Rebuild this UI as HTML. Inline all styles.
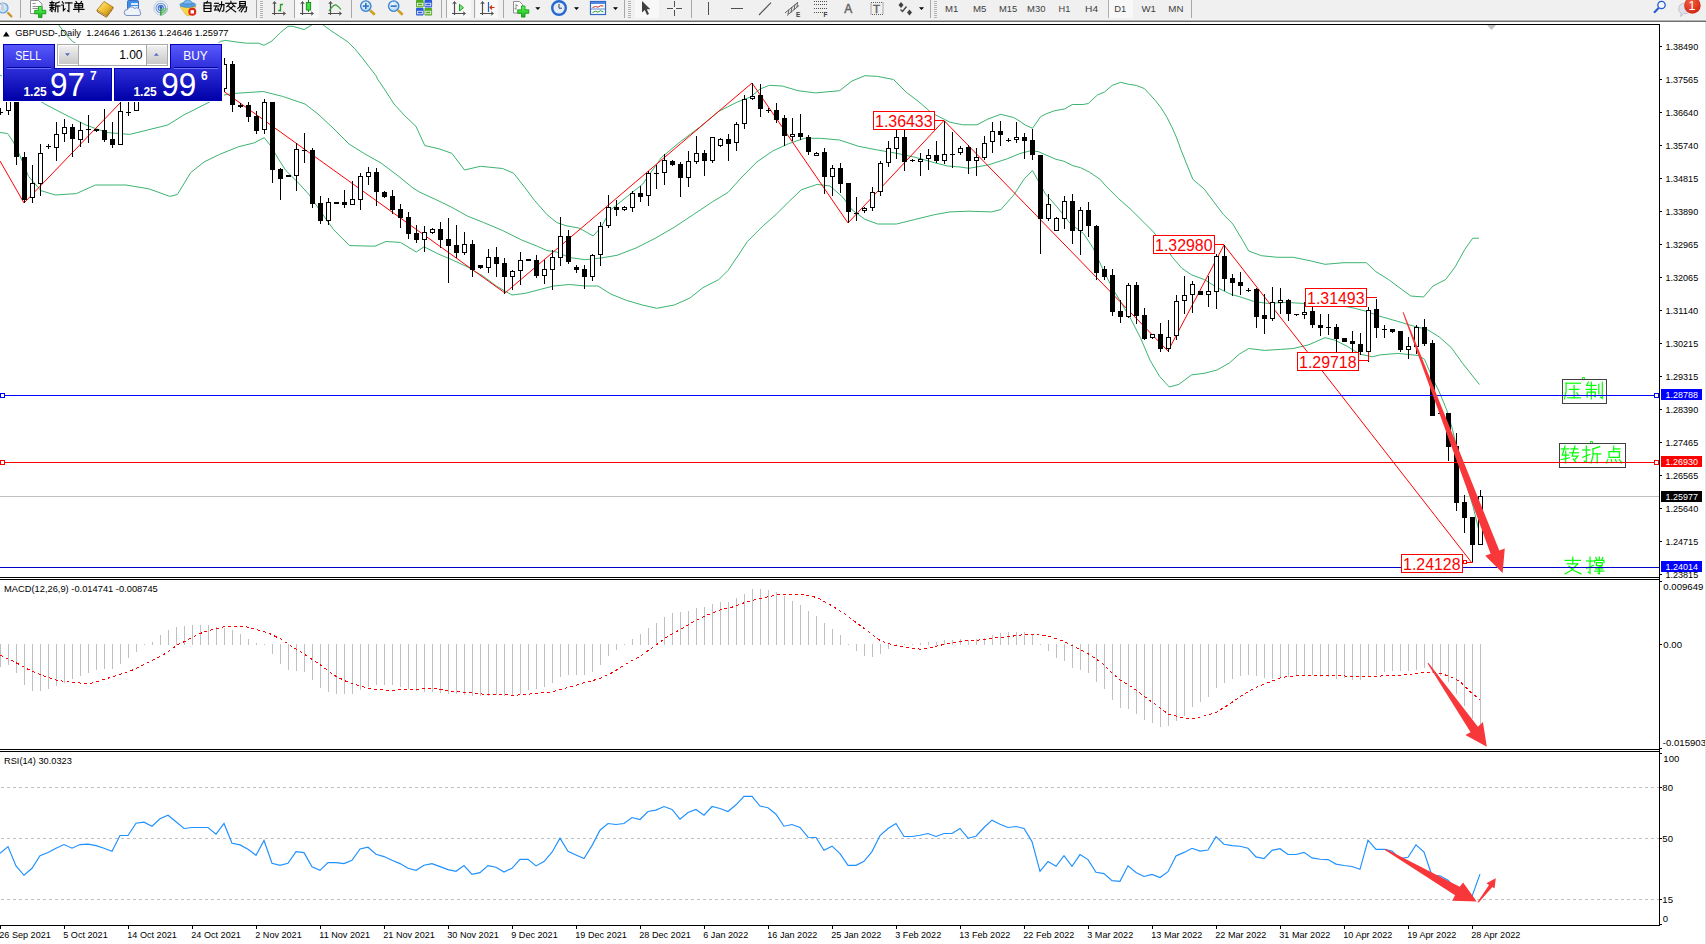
<!DOCTYPE html>
<html><head><meta charset="utf-8"><title>GBPUSD Daily</title>
<style>
html,body{margin:0;padding:0;background:#fff;overflow:hidden}
body{width:1706px;height:944px;position:relative;font-family:"Liberation Sans",sans-serif}
svg{display:block}
text{font-family:"Liberation Sans",sans-serif}
</style></head><body>
<svg width="1706" height="944" viewBox="0 0 1706 944" style="position:absolute;left:0;top:0">
<defs>
<clipPath id="cm"><rect x="0" y="25" width="1659" height="552"/></clipPath>
<clipPath id="c2"><rect x="0" y="581" width="1659" height="168"/></clipPath>
<clipPath id="c3"><rect x="0" y="753" width="1659" height="172"/></clipPath>
</defs>
<g shape-rendering="crispEdges" fill="#000">
<rect x="0" y="24" width="1660" height="1"/>
<rect x="1659" y="24" width="1" height="902"/>
<rect x="0" y="577" width="1660" height="1"/>
<rect x="0" y="579" width="1660" height="1"/>
<rect x="0" y="749" width="1660" height="1"/>
<rect x="0" y="751" width="1660" height="1"/>
<rect x="0" y="925" width="1660" height="1"/>
</g>
<g clip-path="url(#cm)">
<g shape-rendering="crispEdges">
<rect x="0" y="496" width="1659" height="1" fill="#c0c0c0"/>
</g>
<polyline points="58.0,24.0 65.0,33.4 72.5,41.4 80.0,46.0 215.0,46.0 220.4,41.4 225.3,40.4 238.0,42.2 246.4,43.2 258.4,43.2 264.0,45.3 271.8,41.1 280.2,32.7 288.0,26.3 292.9,26.3 304.1,29.6 311.8,24.9 317.5,22.0 323.1,24.9 330.8,30.6 339.3,36.2 347.7,41.8 354.8,48.8 361.8,57.3 368.8,66.4 375.9,75.6 378.0,79.8 385.0,90.0 394.0,104.0 405.0,116.0 416.0,126.4 424.8,145.6 439.0,148.8 451.8,153.3 464.5,170.0 480.4,166.3 502.6,168.5 513.7,173.3 524.9,187.6 534.4,200.3 547.0,214.6 556.6,222.5 566.0,225.7 578.9,228.0 593.2,235.9 601.0,227.3 610.7,209.8 626.5,197.0 642.4,184.4 661.5,157.4 680.6,141.5 699.6,127.2 718.7,111.3 737.8,101.8 750.5,97.0 760.0,89.0 769.5,85.3 782.3,86.0 798.0,90.7 815.6,92.9 839.5,90.7 852.0,81.0 864.9,75.7 877.6,76.4 893.5,79.5 906.2,92.2 918.9,101.8 931.6,112.9 944.3,119.3 950.0,122.2 962.7,124.8 977.0,124.8 988.0,119.0 1000.8,114.3 1013.6,117.5 1020.0,121.3 1025.2,125.0 1032.5,128.3 1040.6,116.7 1047.0,113.5 1054.8,110.7 1064.5,109.0 1072.2,104.5 1083.2,104.5 1088.3,103.5 1097.4,95.0 1104.5,92.0 1112.2,85.4 1120.6,82.3 1128.3,84.2 1136.7,85.5 1144.4,88.6 1149.0,93.5 1155.4,100.6 1161.2,108.0 1167.0,117.4 1172.2,127.7 1176.7,138.0 1181.2,150.3 1186.3,163.2 1192.8,179.3 1204.2,189.0 1213.7,201.7 1223.3,214.4 1232.8,224.0 1242.3,239.8 1248.7,251.0 1261.4,255.7 1277.3,257.3 1293.2,257.3 1309.0,260.5 1325.0,264.3 1344.0,262.7 1366.3,262.7 1375.8,271.6 1388.5,279.5 1401.2,289.0 1410.8,296.0 1423.5,297.0 1433.0,286.0 1445.7,279.5 1455.2,266.8 1464.8,249.4 1472.7,238.2 1479.0,238.2" fill="none" stroke="#3cb371" stroke-width="1"/>
<polyline points="0.0,75.0 44.8,104.0 63.0,113.5 85.8,125.0 106.8,132.5 129.7,134.4 148.8,129.7 167.8,125.0 183.0,115.4 207.0,103.3 222.0,95.3 234.6,93.4 263.2,91.5 282.3,96.3 305.0,104.0 318.0,114.0 333.0,128.0 349.0,144.0 365.0,154.0 381.0,163.0 397.0,175.0 413.0,188.0 420.0,192.3 435.9,199.6 451.8,207.3 467.7,216.2 483.6,222.5 502.6,230.5 521.7,240.0 537.6,246.4 547.0,250.5 556.6,252.0 569.4,257.5 585.2,259.7 601.0,258.0 617.0,255.3 636.0,248.0 655.0,238.4 674.2,227.3 693.3,214.6 712.3,201.9 728.2,192.3 741.0,178.0 756.8,162.0 772.7,151.0 788.6,143.7 804.5,138.3 820.4,138.3 839.5,140.0 858.5,146.3 877.6,150.0 896.6,153.3 915.7,157.4 934.8,162.8 947.5,166.0 960.0,167.0 969.0,168.3 988.0,165.0 1007.2,158.8 1020.0,153.5 1029.7,151.0 1038.0,151.5 1047.0,155.4 1056.0,159.3 1063.8,161.2 1072.9,165.7 1080.6,167.7 1089.6,172.2 1100.0,179.3 1105.7,185.8 1118.4,198.5 1131.0,209.6 1143.8,222.3 1153.4,231.9 1166.0,247.8 1172.4,257.3 1182.0,268.4 1191.5,274.8 1204.2,279.5 1217.0,287.5 1229.6,293.8 1242.3,297.6 1255.0,301.8 1267.8,303.4 1286.8,302.4 1302.7,303.4 1318.6,303.4 1337.7,305.0 1353.6,308.0 1366.3,311.3 1380.0,316.3 1397.8,321.4 1412.6,325.8 1427.5,329.7 1439.3,337.0 1451.2,347.5 1463.0,363.8 1479.4,384.5" fill="none" stroke="#3cb371" stroke-width="1"/>
<polyline points="0.0,132.5 7.6,133.5 13.4,142.0 19.0,153.5 28.6,176.4 41.0,190.7 55.3,195.0 76.3,193.6 95.4,185.0 125.9,185.0 148.8,188.8 169.8,196.4 177.4,194.5 190.7,172.6 204.0,162.0 219.3,154.5 238.4,146.8 253.7,143.0 264.2,137.7 270.8,145.9 278.5,159.2 286.0,170.7 297.5,182.0 309.0,194.5 317.8,207.5 333.6,229.7 349.5,245.6 375.0,246.2 386.0,241.5 400.4,242.4 416.3,252.0 424.0,246.8 439.0,254.3 451.8,259.7 467.7,267.0 483.6,276.5 496.3,286.0 512.0,295.0 524.9,293.4 540.7,289.3 553.5,286.0 569.4,284.5 585.2,286.0 598.0,286.0 610.7,294.0 626.5,300.4 642.4,305.0 656.7,308.3 674.2,305.0 690.0,298.0 702.8,287.7 718.7,279.7 728.2,270.2 737.8,256.0 747.3,241.6 763.2,225.7 775.9,214.6 788.6,201.9 801.3,189.8 817.2,184.4 830.0,186.0 842.6,197.0 852.0,209.8 864.9,219.3 877.6,224.0 896.6,224.0 915.7,219.3 934.8,214.6 950.0,211.9 969.0,211.2 991.3,211.9 1000.8,209.6 1013.6,195.3 1023.9,179.3 1032.5,170.5 1037.4,179.4 1045.3,193.7 1058.0,208.0 1070.7,224.0 1083.5,233.5 1093.0,247.8 1102.5,268.4 1112.0,287.5 1121.6,303.4 1131.0,319.3 1140.7,338.3 1150.2,360.6 1159.7,376.5 1169.3,387.0 1178.8,384.4 1191.5,374.9 1204.2,373.3 1217.0,370.0 1229.6,362.8 1239.2,354.2 1248.7,348.5 1264.6,350.4 1280.5,349.4 1293.2,348.5 1309.0,344.7 1325.0,337.7 1334.5,340.0 1347.2,346.3 1360.0,354.2 1372.6,356.8 1380.0,354.9 1397.8,353.4 1418.6,355.5 1424.5,359.3 1432.0,377.0 1439.3,392.0 1446.7,409.8 1451.2,424.6 1457.0,448.0 1464.5,478.0 1469.0,492.8 1473.4,507.7 1478.0,527.0 1480.0,535.0" fill="none" stroke="#3cb371" stroke-width="1"/>
<polyline points="0.0,161.0 24.0,203.0 169.0,52.0 224.0,91.5 505.0,293.0 752.0,83.0 848.0,223.0 944.0,120.5 1168.0,351.0 1224.0,245.0 1472.0,563.0" fill="none" stroke="#ff0000" stroke-width="1"/>
<g shape-rendering="crispEdges">
<rect x="0" y="108" width="1" height="7" fill="#000"/>
<rect x="-2" y="112" width="5" height="1" fill="#000"/>
<rect x="8" y="90" width="1" height="25" fill="#000"/>
<rect x="6" y="95" width="5" height="16" fill="#000"/>
<rect x="7" y="96" width="3" height="14" fill="#fff"/>
<rect x="16" y="75" width="1" height="90" fill="#000"/>
<rect x="14" y="80" width="5" height="77" fill="#000"/>
<rect x="24" y="152" width="1" height="51" fill="#000"/>
<rect x="22" y="157" width="5" height="43" fill="#000"/>
<rect x="32" y="165" width="1" height="38" fill="#000"/>
<rect x="30" y="183" width="5" height="15" fill="#000"/>
<rect x="31" y="184" width="3" height="13" fill="#fff"/>
<rect x="40" y="144" width="1" height="52" fill="#000"/>
<rect x="38" y="153" width="5" height="31" fill="#000"/>
<rect x="39" y="154" width="3" height="29" fill="#fff"/>
<rect x="48" y="144" width="1" height="5" fill="#000"/>
<rect x="46" y="146" width="5" height="1" fill="#000"/>
<rect x="56" y="122" width="1" height="39" fill="#000"/>
<rect x="54" y="134" width="5" height="14" fill="#000"/>
<rect x="55" y="135" width="3" height="12" fill="#fff"/>
<rect x="64" y="119" width="1" height="23" fill="#000"/>
<rect x="62" y="127" width="5" height="7" fill="#000"/>
<rect x="63" y="128" width="3" height="5" fill="#fff"/>
<rect x="72" y="124" width="1" height="33" fill="#000"/>
<rect x="70" y="127" width="5" height="12" fill="#000"/>
<rect x="80" y="122" width="1" height="25" fill="#000"/>
<rect x="78" y="130" width="5" height="10" fill="#000"/>
<rect x="79" y="131" width="3" height="8" fill="#fff"/>
<rect x="88" y="115" width="1" height="28" fill="#000"/>
<rect x="86" y="129" width="5" height="1" fill="#000"/>
<rect x="96" y="129" width="1" height="3" fill="#000"/>
<rect x="94" y="129" width="5" height="2" fill="#000"/>
<rect x="104" y="109" width="1" height="33" fill="#000"/>
<rect x="102" y="130" width="5" height="10" fill="#000"/>
<rect x="112" y="122" width="1" height="26" fill="#000"/>
<rect x="110" y="139" width="5" height="6" fill="#000"/>
<rect x="120" y="95" width="1" height="50" fill="#000"/>
<rect x="118" y="111" width="5" height="34" fill="#000"/>
<rect x="119" y="112" width="3" height="32" fill="#fff"/>
<rect x="128" y="95" width="1" height="21" fill="#000"/>
<rect x="126" y="112" width="5" height="1" fill="#000"/>
<rect x="136" y="85" width="1" height="26" fill="#000"/>
<rect x="134" y="90" width="5" height="21" fill="#000"/>
<rect x="135" y="91" width="3" height="19" fill="#fff"/>
<rect x="224" y="58" width="1" height="34" fill="#000"/>
<rect x="222" y="64" width="5" height="25" fill="#000"/>
<rect x="223" y="65" width="3" height="23" fill="#fff"/>
<rect x="232" y="61" width="1" height="51" fill="#000"/>
<rect x="230" y="64" width="5" height="41" fill="#000"/>
<rect x="240" y="103" width="1" height="5" fill="#000"/>
<rect x="238" y="105" width="5" height="2" fill="#000"/>
<rect x="248" y="102" width="1" height="20" fill="#000"/>
<rect x="246" y="105" width="5" height="12" fill="#000"/>
<rect x="256" y="111" width="1" height="23" fill="#000"/>
<rect x="254" y="116" width="5" height="15" fill="#000"/>
<rect x="264" y="99" width="1" height="35" fill="#000"/>
<rect x="262" y="102" width="5" height="28" fill="#000"/>
<rect x="263" y="103" width="3" height="26" fill="#fff"/>
<rect x="272" y="102" width="1" height="81" fill="#000"/>
<rect x="270" y="102" width="5" height="68" fill="#000"/>
<rect x="280" y="168" width="1" height="32" fill="#000"/>
<rect x="278" y="169" width="5" height="10" fill="#000"/>
<rect x="288" y="176" width="1" height="1" fill="#000"/>
<rect x="286" y="175" width="5" height="2" fill="#000"/>
<rect x="296" y="143" width="1" height="48" fill="#000"/>
<rect x="294" y="149" width="5" height="27" fill="#000"/>
<rect x="295" y="150" width="3" height="25" fill="#fff"/>
<rect x="304" y="133" width="1" height="30" fill="#000"/>
<rect x="302" y="150" width="5" height="1" fill="#000"/>
<rect x="312" y="148" width="1" height="60" fill="#000"/>
<rect x="310" y="150" width="5" height="54" fill="#000"/>
<rect x="320" y="196" width="1" height="28" fill="#000"/>
<rect x="318" y="203" width="5" height="18" fill="#000"/>
<rect x="328" y="198" width="1" height="27" fill="#000"/>
<rect x="326" y="202" width="5" height="19" fill="#000"/>
<rect x="327" y="203" width="3" height="17" fill="#fff"/>
<rect x="336" y="202" width="1" height="2" fill="#000"/>
<rect x="334" y="202" width="5" height="2" fill="#000"/>
<rect x="344" y="190" width="1" height="18" fill="#000"/>
<rect x="342" y="202" width="5" height="3" fill="#000"/>
<rect x="352" y="181" width="1" height="24" fill="#000"/>
<rect x="350" y="199" width="5" height="6" fill="#000"/>
<rect x="351" y="200" width="3" height="4" fill="#fff"/>
<rect x="360" y="173" width="1" height="37" fill="#000"/>
<rect x="358" y="176" width="5" height="24" fill="#000"/>
<rect x="359" y="177" width="3" height="22" fill="#fff"/>
<rect x="368" y="167" width="1" height="18" fill="#000"/>
<rect x="366" y="172" width="5" height="5" fill="#000"/>
<rect x="367" y="173" width="3" height="3" fill="#fff"/>
<rect x="376" y="168" width="1" height="38" fill="#000"/>
<rect x="374" y="172" width="5" height="20" fill="#000"/>
<rect x="384" y="191" width="1" height="7" fill="#000"/>
<rect x="382" y="192" width="5" height="5" fill="#000"/>
<rect x="392" y="190" width="1" height="24" fill="#000"/>
<rect x="390" y="196" width="5" height="14" fill="#000"/>
<rect x="400" y="204" width="1" height="24" fill="#000"/>
<rect x="398" y="209" width="5" height="9" fill="#000"/>
<rect x="408" y="212" width="1" height="27" fill="#000"/>
<rect x="406" y="217" width="5" height="17" fill="#000"/>
<rect x="416" y="225" width="1" height="18" fill="#000"/>
<rect x="414" y="233" width="5" height="7" fill="#000"/>
<rect x="424" y="226" width="1" height="26" fill="#000"/>
<rect x="422" y="232" width="5" height="8" fill="#000"/>
<rect x="423" y="233" width="3" height="6" fill="#fff"/>
<rect x="432" y="228" width="1" height="6" fill="#000"/>
<rect x="430" y="229" width="5" height="4" fill="#000"/>
<rect x="431" y="230" width="3" height="2" fill="#fff"/>
<rect x="440" y="222" width="1" height="26" fill="#000"/>
<rect x="438" y="229" width="5" height="11" fill="#000"/>
<rect x="448" y="218" width="1" height="65" fill="#000"/>
<rect x="446" y="239" width="5" height="7" fill="#000"/>
<rect x="456" y="225" width="1" height="33" fill="#000"/>
<rect x="454" y="245" width="5" height="8" fill="#000"/>
<rect x="464" y="232" width="1" height="23" fill="#000"/>
<rect x="462" y="244" width="5" height="9" fill="#000"/>
<rect x="463" y="245" width="3" height="7" fill="#fff"/>
<rect x="472" y="240" width="1" height="37" fill="#000"/>
<rect x="470" y="244" width="5" height="26" fill="#000"/>
<rect x="480" y="265" width="1" height="4" fill="#000"/>
<rect x="478" y="265" width="5" height="3" fill="#000"/>
<rect x="488" y="249" width="1" height="24" fill="#000"/>
<rect x="486" y="257" width="5" height="11" fill="#000"/>
<rect x="487" y="258" width="3" height="9" fill="#fff"/>
<rect x="496" y="247" width="1" height="30" fill="#000"/>
<rect x="494" y="257" width="5" height="7" fill="#000"/>
<rect x="504" y="258" width="1" height="36" fill="#000"/>
<rect x="502" y="263" width="5" height="14" fill="#000"/>
<rect x="512" y="270" width="1" height="20" fill="#000"/>
<rect x="510" y="271" width="5" height="6" fill="#000"/>
<rect x="511" y="272" width="3" height="4" fill="#fff"/>
<rect x="520" y="252" width="1" height="33" fill="#000"/>
<rect x="518" y="260" width="5" height="11" fill="#000"/>
<rect x="519" y="261" width="3" height="9" fill="#fff"/>
<rect x="528" y="259" width="1" height="2" fill="#000"/>
<rect x="526" y="259" width="5" height="2" fill="#000"/>
<rect x="536" y="255" width="1" height="23" fill="#000"/>
<rect x="534" y="260" width="5" height="16" fill="#000"/>
<rect x="544" y="260" width="1" height="24" fill="#000"/>
<rect x="542" y="269" width="5" height="7" fill="#000"/>
<rect x="543" y="270" width="3" height="5" fill="#fff"/>
<rect x="552" y="250" width="1" height="40" fill="#000"/>
<rect x="550" y="257" width="5" height="13" fill="#000"/>
<rect x="551" y="258" width="3" height="11" fill="#fff"/>
<rect x="560" y="217" width="1" height="49" fill="#000"/>
<rect x="558" y="236" width="5" height="22" fill="#000"/>
<rect x="559" y="237" width="3" height="20" fill="#fff"/>
<rect x="568" y="230" width="1" height="34" fill="#000"/>
<rect x="566" y="236" width="5" height="26" fill="#000"/>
<rect x="576" y="265" width="1" height="8" fill="#000"/>
<rect x="574" y="267" width="5" height="3" fill="#000"/>
<rect x="584" y="265" width="1" height="24" fill="#000"/>
<rect x="582" y="269" width="5" height="8" fill="#000"/>
<rect x="592" y="254" width="1" height="27" fill="#000"/>
<rect x="590" y="255" width="5" height="22" fill="#000"/>
<rect x="591" y="256" width="3" height="20" fill="#fff"/>
<rect x="600" y="222" width="1" height="44" fill="#000"/>
<rect x="598" y="226" width="5" height="29" fill="#000"/>
<rect x="599" y="227" width="3" height="27" fill="#fff"/>
<rect x="608" y="195" width="1" height="33" fill="#000"/>
<rect x="606" y="207" width="5" height="19" fill="#000"/>
<rect x="607" y="208" width="3" height="17" fill="#fff"/>
<rect x="616" y="200" width="1" height="16" fill="#000"/>
<rect x="614" y="207" width="5" height="3" fill="#000"/>
<rect x="624" y="206" width="1" height="5" fill="#000"/>
<rect x="622" y="207" width="5" height="3" fill="#000"/>
<rect x="623" y="208" width="3" height="1" fill="#fff"/>
<rect x="632" y="191" width="1" height="21" fill="#000"/>
<rect x="630" y="193" width="5" height="15" fill="#000"/>
<rect x="631" y="194" width="3" height="13" fill="#fff"/>
<rect x="640" y="186" width="1" height="16" fill="#000"/>
<rect x="638" y="193" width="5" height="4" fill="#000"/>
<rect x="648" y="171" width="1" height="35" fill="#000"/>
<rect x="646" y="173" width="5" height="23" fill="#000"/>
<rect x="647" y="174" width="3" height="21" fill="#fff"/>
<rect x="656" y="165" width="1" height="24" fill="#000"/>
<rect x="654" y="173" width="5" height="1" fill="#000"/>
<rect x="664" y="154" width="1" height="31" fill="#000"/>
<rect x="662" y="160" width="5" height="13" fill="#000"/>
<rect x="663" y="161" width="3" height="11" fill="#fff"/>
<rect x="672" y="160" width="1" height="6" fill="#000"/>
<rect x="670" y="161" width="5" height="4" fill="#000"/>
<rect x="680" y="162" width="1" height="35" fill="#000"/>
<rect x="678" y="164" width="5" height="14" fill="#000"/>
<rect x="688" y="151" width="1" height="36" fill="#000"/>
<rect x="686" y="161" width="5" height="17" fill="#000"/>
<rect x="687" y="162" width="3" height="15" fill="#fff"/>
<rect x="696" y="136" width="1" height="28" fill="#000"/>
<rect x="694" y="153" width="5" height="9" fill="#000"/>
<rect x="695" y="154" width="3" height="7" fill="#fff"/>
<rect x="704" y="150" width="1" height="26" fill="#000"/>
<rect x="702" y="153" width="5" height="8" fill="#000"/>
<rect x="712" y="137" width="1" height="26" fill="#000"/>
<rect x="710" y="137" width="5" height="24" fill="#000"/>
<rect x="711" y="138" width="3" height="22" fill="#fff"/>
<rect x="720" y="138" width="1" height="9" fill="#000"/>
<rect x="718" y="139" width="5" height="7" fill="#000"/>
<rect x="719" y="140" width="3" height="5" fill="#fff"/>
<rect x="728" y="134" width="1" height="27" fill="#000"/>
<rect x="726" y="139" width="5" height="5" fill="#000"/>
<rect x="736" y="122" width="1" height="29" fill="#000"/>
<rect x="734" y="124" width="5" height="19" fill="#000"/>
<rect x="735" y="125" width="3" height="17" fill="#fff"/>
<rect x="744" y="95" width="1" height="34" fill="#000"/>
<rect x="742" y="99" width="5" height="25" fill="#000"/>
<rect x="743" y="100" width="3" height="23" fill="#fff"/>
<rect x="752" y="83" width="1" height="17" fill="#000"/>
<rect x="750" y="96" width="5" height="3" fill="#000"/>
<rect x="751" y="97" width="3" height="1" fill="#fff"/>
<rect x="760" y="84" width="1" height="33" fill="#000"/>
<rect x="758" y="95" width="5" height="14" fill="#000"/>
<rect x="768" y="108" width="1" height="5" fill="#000"/>
<rect x="766" y="110" width="5" height="1" fill="#000"/>
<rect x="776" y="103" width="1" height="20" fill="#000"/>
<rect x="774" y="110" width="5" height="10" fill="#000"/>
<rect x="784" y="115" width="1" height="31" fill="#000"/>
<rect x="782" y="118" width="5" height="18" fill="#000"/>
<rect x="792" y="118" width="1" height="23" fill="#000"/>
<rect x="790" y="134" width="5" height="3" fill="#000"/>
<rect x="791" y="135" width="3" height="1" fill="#fff"/>
<rect x="800" y="114" width="1" height="26" fill="#000"/>
<rect x="798" y="133" width="5" height="4" fill="#000"/>
<rect x="808" y="135" width="1" height="20" fill="#000"/>
<rect x="806" y="137" width="5" height="15" fill="#000"/>
<rect x="816" y="152" width="1" height="4" fill="#000"/>
<rect x="814" y="153" width="5" height="3" fill="#000"/>
<rect x="815" y="154" width="3" height="1" fill="#fff"/>
<rect x="824" y="148" width="1" height="46" fill="#000"/>
<rect x="822" y="152" width="5" height="25" fill="#000"/>
<rect x="832" y="165" width="1" height="31" fill="#000"/>
<rect x="830" y="168" width="5" height="9" fill="#000"/>
<rect x="831" y="169" width="3" height="7" fill="#fff"/>
<rect x="840" y="163" width="1" height="30" fill="#000"/>
<rect x="838" y="168" width="5" height="16" fill="#000"/>
<rect x="848" y="183" width="1" height="40" fill="#000"/>
<rect x="846" y="183" width="5" height="29" fill="#000"/>
<rect x="856" y="197" width="1" height="24" fill="#000"/>
<rect x="854" y="213" width="5" height="1" fill="#000"/>
<rect x="864" y="207" width="1" height="6" fill="#000"/>
<rect x="862" y="208" width="5" height="3" fill="#000"/>
<rect x="863" y="209" width="3" height="1" fill="#fff"/>
<rect x="872" y="187" width="1" height="24" fill="#000"/>
<rect x="870" y="192" width="5" height="16" fill="#000"/>
<rect x="871" y="193" width="3" height="14" fill="#fff"/>
<rect x="880" y="161" width="1" height="35" fill="#000"/>
<rect x="878" y="163" width="5" height="29" fill="#000"/>
<rect x="879" y="164" width="3" height="27" fill="#fff"/>
<rect x="888" y="141" width="1" height="26" fill="#000"/>
<rect x="886" y="148" width="5" height="15" fill="#000"/>
<rect x="887" y="149" width="3" height="13" fill="#fff"/>
<rect x="896" y="127" width="1" height="32" fill="#000"/>
<rect x="894" y="137" width="5" height="12" fill="#000"/>
<rect x="895" y="138" width="3" height="10" fill="#fff"/>
<rect x="904" y="129" width="1" height="42" fill="#000"/>
<rect x="902" y="137" width="5" height="25" fill="#000"/>
<rect x="912" y="159" width="1" height="3" fill="#000"/>
<rect x="910" y="160" width="5" height="1" fill="#000"/>
<rect x="920" y="153" width="1" height="23" fill="#000"/>
<rect x="918" y="159" width="5" height="3" fill="#000"/>
<rect x="919" y="160" width="3" height="1" fill="#fff"/>
<rect x="928" y="149" width="1" height="21" fill="#000"/>
<rect x="926" y="155" width="5" height="4" fill="#000"/>
<rect x="927" y="156" width="3" height="2" fill="#fff"/>
<rect x="936" y="141" width="1" height="22" fill="#000"/>
<rect x="934" y="155" width="5" height="6" fill="#000"/>
<rect x="944" y="121" width="1" height="43" fill="#000"/>
<rect x="942" y="154" width="5" height="7" fill="#000"/>
<rect x="943" y="155" width="3" height="5" fill="#fff"/>
<rect x="952" y="132" width="1" height="36" fill="#000"/>
<rect x="950" y="154" width="5" height="1" fill="#000"/>
<rect x="960" y="146" width="1" height="9" fill="#000"/>
<rect x="958" y="148" width="5" height="5" fill="#000"/>
<rect x="959" y="149" width="3" height="3" fill="#fff"/>
<rect x="968" y="145" width="1" height="29" fill="#000"/>
<rect x="966" y="147" width="5" height="14" fill="#000"/>
<rect x="976" y="148" width="1" height="28" fill="#000"/>
<rect x="974" y="157" width="5" height="4" fill="#000"/>
<rect x="975" y="158" width="3" height="2" fill="#fff"/>
<rect x="984" y="136" width="1" height="24" fill="#000"/>
<rect x="982" y="143" width="5" height="15" fill="#000"/>
<rect x="983" y="144" width="3" height="13" fill="#fff"/>
<rect x="992" y="122" width="1" height="31" fill="#000"/>
<rect x="990" y="131" width="5" height="11" fill="#000"/>
<rect x="991" y="132" width="3" height="9" fill="#fff"/>
<rect x="1000" y="121" width="1" height="25" fill="#000"/>
<rect x="998" y="131" width="5" height="4" fill="#000"/>
<rect x="1008" y="138" width="1" height="4" fill="#000"/>
<rect x="1006" y="140" width="5" height="1" fill="#000"/>
<rect x="1016" y="122" width="1" height="21" fill="#000"/>
<rect x="1014" y="137" width="5" height="3" fill="#000"/>
<rect x="1015" y="138" width="3" height="1" fill="#fff"/>
<rect x="1024" y="133" width="1" height="26" fill="#000"/>
<rect x="1022" y="137" width="5" height="4" fill="#000"/>
<rect x="1032" y="129" width="1" height="31" fill="#000"/>
<rect x="1030" y="140" width="5" height="15" fill="#000"/>
<rect x="1040" y="155" width="1" height="99" fill="#000"/>
<rect x="1038" y="155" width="5" height="64" fill="#000"/>
<rect x="1048" y="194" width="1" height="27" fill="#000"/>
<rect x="1046" y="204" width="5" height="15" fill="#000"/>
<rect x="1047" y="205" width="3" height="13" fill="#fff"/>
<rect x="1056" y="217" width="1" height="14" fill="#000"/>
<rect x="1054" y="218" width="5" height="13" fill="#000"/>
<rect x="1055" y="219" width="3" height="11" fill="#fff"/>
<rect x="1064" y="196" width="1" height="33" fill="#000"/>
<rect x="1062" y="201" width="5" height="18" fill="#000"/>
<rect x="1063" y="202" width="3" height="16" fill="#fff"/>
<rect x="1072" y="194" width="1" height="50" fill="#000"/>
<rect x="1070" y="201" width="5" height="30" fill="#000"/>
<rect x="1080" y="207" width="1" height="48" fill="#000"/>
<rect x="1078" y="210" width="5" height="21" fill="#000"/>
<rect x="1079" y="211" width="3" height="19" fill="#fff"/>
<rect x="1088" y="202" width="1" height="35" fill="#000"/>
<rect x="1086" y="210" width="5" height="16" fill="#000"/>
<rect x="1096" y="225" width="1" height="55" fill="#000"/>
<rect x="1094" y="226" width="5" height="47" fill="#000"/>
<rect x="1104" y="266" width="1" height="14" fill="#000"/>
<rect x="1102" y="269" width="5" height="8" fill="#000"/>
<rect x="1112" y="269" width="1" height="47" fill="#000"/>
<rect x="1110" y="275" width="5" height="37" fill="#000"/>
<rect x="1120" y="300" width="1" height="23" fill="#000"/>
<rect x="1118" y="311" width="5" height="6" fill="#000"/>
<rect x="1128" y="283" width="1" height="35" fill="#000"/>
<rect x="1126" y="285" width="5" height="32" fill="#000"/>
<rect x="1127" y="286" width="3" height="30" fill="#fff"/>
<rect x="1136" y="282" width="1" height="42" fill="#000"/>
<rect x="1134" y="285" width="5" height="31" fill="#000"/>
<rect x="1144" y="308" width="1" height="32" fill="#000"/>
<rect x="1142" y="315" width="5" height="24" fill="#000"/>
<rect x="1152" y="334" width="1" height="5" fill="#000"/>
<rect x="1150" y="334" width="5" height="4" fill="#000"/>
<rect x="1151" y="335" width="3" height="2" fill="#fff"/>
<rect x="1160" y="323" width="1" height="29" fill="#000"/>
<rect x="1158" y="334" width="5" height="15" fill="#000"/>
<rect x="1168" y="320" width="1" height="32" fill="#000"/>
<rect x="1166" y="337" width="5" height="12" fill="#000"/>
<rect x="1167" y="338" width="3" height="10" fill="#fff"/>
<rect x="1176" y="295" width="1" height="45" fill="#000"/>
<rect x="1174" y="301" width="5" height="35" fill="#000"/>
<rect x="1175" y="302" width="3" height="33" fill="#fff"/>
<rect x="1184" y="276" width="1" height="38" fill="#000"/>
<rect x="1182" y="295" width="5" height="6" fill="#000"/>
<rect x="1183" y="296" width="3" height="4" fill="#fff"/>
<rect x="1192" y="281" width="1" height="32" fill="#000"/>
<rect x="1190" y="284" width="5" height="11" fill="#000"/>
<rect x="1191" y="285" width="3" height="9" fill="#fff"/>
<rect x="1200" y="291" width="1" height="4" fill="#000"/>
<rect x="1198" y="291" width="5" height="4" fill="#000"/>
<rect x="1208" y="276" width="1" height="31" fill="#000"/>
<rect x="1206" y="291" width="5" height="4" fill="#000"/>
<rect x="1207" y="292" width="3" height="2" fill="#fff"/>
<rect x="1216" y="254" width="1" height="55" fill="#000"/>
<rect x="1214" y="256" width="5" height="36" fill="#000"/>
<rect x="1215" y="257" width="3" height="34" fill="#fff"/>
<rect x="1224" y="245" width="1" height="46" fill="#000"/>
<rect x="1222" y="256" width="5" height="23" fill="#000"/>
<rect x="1232" y="274" width="1" height="22" fill="#000"/>
<rect x="1230" y="278" width="5" height="5" fill="#000"/>
<rect x="1240" y="272" width="1" height="23" fill="#000"/>
<rect x="1238" y="282" width="5" height="4" fill="#000"/>
<rect x="1248" y="288" width="1" height="4" fill="#000"/>
<rect x="1246" y="290" width="5" height="1" fill="#000"/>
<rect x="1256" y="288" width="1" height="40" fill="#000"/>
<rect x="1254" y="289" width="5" height="28" fill="#000"/>
<rect x="1264" y="294" width="1" height="40" fill="#000"/>
<rect x="1262" y="315" width="5" height="4" fill="#000"/>
<rect x="1272" y="287" width="1" height="34" fill="#000"/>
<rect x="1270" y="302" width="5" height="17" fill="#000"/>
<rect x="1271" y="303" width="3" height="15" fill="#fff"/>
<rect x="1280" y="288" width="1" height="26" fill="#000"/>
<rect x="1278" y="300" width="5" height="3" fill="#000"/>
<rect x="1279" y="301" width="3" height="1" fill="#fff"/>
<rect x="1288" y="299" width="1" height="22" fill="#000"/>
<rect x="1286" y="300" width="5" height="14" fill="#000"/>
<rect x="1296" y="314" width="1" height="2" fill="#000"/>
<rect x="1294" y="314" width="5" height="1" fill="#000"/>
<rect x="1304" y="302" width="1" height="17" fill="#000"/>
<rect x="1302" y="312" width="5" height="3" fill="#000"/>
<rect x="1303" y="313" width="3" height="1" fill="#fff"/>
<rect x="1312" y="292" width="1" height="36" fill="#000"/>
<rect x="1310" y="311" width="5" height="14" fill="#000"/>
<rect x="1320" y="314" width="1" height="22" fill="#000"/>
<rect x="1318" y="325" width="5" height="3" fill="#000"/>
<rect x="1328" y="314" width="1" height="21" fill="#000"/>
<rect x="1326" y="327" width="5" height="1" fill="#000"/>
<rect x="1336" y="324" width="1" height="35" fill="#000"/>
<rect x="1334" y="327" width="5" height="12" fill="#000"/>
<rect x="1344" y="338" width="1" height="4" fill="#000"/>
<rect x="1342" y="338" width="5" height="4" fill="#000"/>
<rect x="1352" y="331" width="1" height="24" fill="#000"/>
<rect x="1350" y="341" width="5" height="3" fill="#000"/>
<rect x="1360" y="333" width="1" height="22" fill="#000"/>
<rect x="1358" y="344" width="5" height="8" fill="#000"/>
<rect x="1368" y="307" width="1" height="55" fill="#000"/>
<rect x="1366" y="310" width="5" height="42" fill="#000"/>
<rect x="1367" y="311" width="3" height="40" fill="#fff"/>
<rect x="1376" y="299" width="1" height="39" fill="#000"/>
<rect x="1374" y="309" width="5" height="19" fill="#000"/>
<rect x="1384" y="325" width="1" height="13" fill="#000"/>
<rect x="1382" y="329" width="5" height="1" fill="#000"/>
<rect x="1392" y="329" width="1" height="4" fill="#000"/>
<rect x="1390" y="329" width="5" height="3" fill="#000"/>
<rect x="1400" y="331" width="1" height="21" fill="#000"/>
<rect x="1398" y="331" width="5" height="19" fill="#000"/>
<rect x="1408" y="337" width="1" height="22" fill="#000"/>
<rect x="1406" y="346" width="5" height="4" fill="#000"/>
<rect x="1407" y="347" width="3" height="2" fill="#fff"/>
<rect x="1416" y="325" width="1" height="29" fill="#000"/>
<rect x="1414" y="327" width="5" height="20" fill="#000"/>
<rect x="1415" y="328" width="3" height="18" fill="#fff"/>
<rect x="1424" y="319" width="1" height="27" fill="#000"/>
<rect x="1422" y="327" width="5" height="17" fill="#000"/>
<rect x="1432" y="340" width="1" height="76" fill="#000"/>
<rect x="1430" y="343" width="5" height="73" fill="#000"/>
<rect x="1440" y="413" width="1" height="2" fill="#000"/>
<rect x="1438" y="413" width="5" height="1" fill="#000"/>
<rect x="1448" y="413" width="1" height="48" fill="#000"/>
<rect x="1446" y="413" width="5" height="34" fill="#000"/>
<rect x="1456" y="433" width="1" height="78" fill="#000"/>
<rect x="1454" y="446" width="5" height="57" fill="#000"/>
<rect x="1464" y="495" width="1" height="38" fill="#000"/>
<rect x="1462" y="502" width="5" height="16" fill="#000"/>
<rect x="1472" y="517" width="1" height="46" fill="#000"/>
<rect x="1470" y="517" width="5" height="28" fill="#000"/>
<rect x="1480" y="490" width="1" height="55" fill="#000"/>
<rect x="1478" y="496" width="5" height="49" fill="#000"/>
<rect x="1479" y="497" width="3" height="47" fill="#fff"/>
</g>
<g shape-rendering="crispEdges">
<rect x="0" y="395" width="1659" height="1" fill="#0000ff"/>
<rect x="0" y="462" width="1659" height="1" fill="#ff0000"/>
<rect x="0" y="567" width="1659" height="1" fill="#0000c8"/>
<rect x="0" y="393" width="5" height="5" fill="#0000ff"/><rect x="1" y="394" width="3" height="3" fill="#fff"/>
<rect x="1654" y="393" width="5" height="5" fill="#0000ff"/><rect x="1655" y="394" width="3" height="3" fill="#fff"/>
<rect x="0" y="460" width="5" height="5" fill="#ff0000"/><rect x="1" y="461" width="3" height="3" fill="#fff"/>
<rect x="1654" y="460" width="5" height="5" fill="#ff0000"/><rect x="1655" y="461" width="3" height="3" fill="#fff"/>
</g>
</g>
<rect x="873.5" y="111.5" width="61" height="18" fill="#fff" stroke="#ff0000" stroke-width="1" shape-rendering="crispEdges"/>
<text x="903.8" y="127.3" font-family="Liberation Sans, sans-serif" font-size="16.2" fill="#ff0000" text-anchor="middle" textLength="57.5" lengthAdjust="spacingAndGlyphs">1.36433</text>
<polyline points="934.0,120.5 944.0,120.5" fill="none" stroke="#ff0000" stroke-width="1" shape-rendering="crispEdges"/>
<rect x="1153.5" y="235.5" width="61" height="18" fill="#fff" stroke="#ff0000" stroke-width="1" shape-rendering="crispEdges"/>
<text x="1183.8" y="251.3" font-family="Liberation Sans, sans-serif" font-size="16.2" fill="#ff0000" text-anchor="middle" textLength="57.5" lengthAdjust="spacingAndGlyphs">1.32980</text>
<polyline points="1214.0,244.5 1224.0,244.5" fill="none" stroke="#ff0000" stroke-width="1" shape-rendering="crispEdges"/>
<rect x="1305.5" y="288.5" width="61" height="18" fill="#fff" stroke="#ff0000" stroke-width="1" shape-rendering="crispEdges"/>
<text x="1335.8" y="304.3" font-family="Liberation Sans, sans-serif" font-size="16.2" fill="#ff0000" text-anchor="middle" textLength="57.5" lengthAdjust="spacingAndGlyphs">1.31493</text>
<polyline points="1366.0,297.5 1377.0,297.5" fill="none" stroke="#ff0000" stroke-width="1" shape-rendering="crispEdges"/>
<rect x="1297.5" y="352.5" width="61" height="18" fill="#fff" stroke="#ff0000" stroke-width="1" shape-rendering="crispEdges"/>
<text x="1327.8" y="368.3" font-family="Liberation Sans, sans-serif" font-size="16.2" fill="#ff0000" text-anchor="middle" textLength="57.5" lengthAdjust="spacingAndGlyphs">1.29718</text>
<polyline points="1358.0,360.5 1368.5,360.5 1368.5,352.0" fill="none" stroke="#ff0000" stroke-width="1" shape-rendering="crispEdges"/>
<rect x="1401.5" y="554.5" width="61" height="18" fill="#fff" stroke="#ff0000" stroke-width="1" shape-rendering="crispEdges"/>
<text x="1431.8" y="570.3" font-family="Liberation Sans, sans-serif" font-size="16.2" fill="#ff0000" text-anchor="middle" textLength="57.5" lengthAdjust="spacingAndGlyphs">1.24128</text>
<polyline points="1462.0,562.5 1472.5,562.5" fill="none" stroke="#ff0000" stroke-width="1" shape-rendering="crispEdges"/>
<rect x="1463.5" y="560.5" width="3" height="3" fill="#fff" stroke="#ff0000" stroke-width="1" shape-rendering="crispEdges"/>
<g shape-rendering="crispEdges" fill="#000">
<rect x="1660" y="46" width="2" height="1"/>
<rect x="1660" y="79" width="2" height="1"/>
<rect x="1660" y="112" width="2" height="1"/>
<rect x="1660" y="145" width="2" height="1"/>
<rect x="1660" y="178" width="2" height="1"/>
<rect x="1660" y="211" width="2" height="1"/>
<rect x="1660" y="244" width="2" height="1"/>
<rect x="1660" y="277" width="2" height="1"/>
<rect x="1660" y="310" width="2" height="1"/>
<rect x="1660" y="343" width="2" height="1"/>
<rect x="1660" y="376" width="2" height="1"/>
<rect x="1660" y="409" width="2" height="1"/>
<rect x="1660" y="442" width="2" height="1"/>
<rect x="1660" y="475" width="2" height="1"/>
<rect x="1660" y="508" width="2" height="1"/>
<rect x="1660" y="541" width="2" height="1"/>
<rect x="1660" y="574" width="2" height="1"/>
</g>
<g font-family="Liberation Sans, sans-serif" font-size="9.6" fill="#000">
<text x="1665.4" y="50.2" textLength="32.8" lengthAdjust="spacingAndGlyphs">1.38490</text>
<text x="1665.4" y="83.2" textLength="32.8" lengthAdjust="spacingAndGlyphs">1.37565</text>
<text x="1665.4" y="116.2" textLength="32.8" lengthAdjust="spacingAndGlyphs">1.36640</text>
<text x="1665.4" y="149.2" textLength="32.8" lengthAdjust="spacingAndGlyphs">1.35740</text>
<text x="1665.4" y="182.2" textLength="32.8" lengthAdjust="spacingAndGlyphs">1.34815</text>
<text x="1665.4" y="215.2" textLength="32.8" lengthAdjust="spacingAndGlyphs">1.33890</text>
<text x="1665.4" y="248.2" textLength="32.8" lengthAdjust="spacingAndGlyphs">1.32965</text>
<text x="1665.4" y="281.2" textLength="32.8" lengthAdjust="spacingAndGlyphs">1.32065</text>
<text x="1665.4" y="314.2" textLength="32.8" lengthAdjust="spacingAndGlyphs">1.31140</text>
<text x="1665.4" y="347.2" textLength="32.8" lengthAdjust="spacingAndGlyphs">1.30215</text>
<text x="1665.4" y="380.2" textLength="32.8" lengthAdjust="spacingAndGlyphs">1.29315</text>
<text x="1665.4" y="413.2" textLength="32.8" lengthAdjust="spacingAndGlyphs">1.28390</text>
<text x="1665.4" y="446.2" textLength="32.8" lengthAdjust="spacingAndGlyphs">1.27465</text>
<text x="1665.4" y="479.2" textLength="32.8" lengthAdjust="spacingAndGlyphs">1.26565</text>
<text x="1665.4" y="512.2" textLength="32.8" lengthAdjust="spacingAndGlyphs">1.25640</text>
<text x="1665.4" y="545.2" textLength="32.8" lengthAdjust="spacingAndGlyphs">1.24715</text>
<text x="1665.4" y="578.2" textLength="32.8" lengthAdjust="spacingAndGlyphs">1.23815</text>
</g>
<rect x="1661" y="389" width="41" height="11" fill="#0000ff" shape-rendering="crispEdges"/>
<text x="1665.6" y="398.2" font-family="Liberation Sans, sans-serif" font-size="9.6" fill="#fff" textLength="32.4" lengthAdjust="spacingAndGlyphs">1.28788</text>
<rect x="1661" y="456" width="41" height="11" fill="#ff0000" shape-rendering="crispEdges"/>
<text x="1665.6" y="465.2" font-family="Liberation Sans, sans-serif" font-size="9.6" fill="#fff" textLength="32.4" lengthAdjust="spacingAndGlyphs">1.26930</text>
<rect x="1661" y="491" width="41" height="11" fill="#000000" shape-rendering="crispEdges"/>
<text x="1665.6" y="500.2" font-family="Liberation Sans, sans-serif" font-size="9.6" fill="#fff" textLength="32.4" lengthAdjust="spacingAndGlyphs">1.25977</text>
<rect x="1661" y="561" width="41" height="11" fill="#0000ff" shape-rendering="crispEdges"/>
<text x="1665.6" y="570.2" font-family="Liberation Sans, sans-serif" font-size="9.6" fill="#fff" textLength="32.4" lengthAdjust="spacingAndGlyphs">1.24014</text>
<g clip-path="url(#c2)">
<g shape-rendering="crispEdges" fill="#c0c0c0">
<rect x="0" y="644" width="1" height="23"/>
<rect x="8" y="644" width="1" height="21"/>
<rect x="16" y="644" width="1" height="29"/>
<rect x="24" y="644" width="1" height="41"/>
<rect x="32" y="644" width="1" height="47"/>
<rect x="40" y="644" width="1" height="47"/>
<rect x="48" y="644" width="1" height="45"/>
<rect x="56" y="644" width="1" height="42"/>
<rect x="64" y="644" width="1" height="39"/>
<rect x="72" y="644" width="1" height="35"/>
<rect x="80" y="644" width="1" height="32"/>
<rect x="88" y="644" width="1" height="29"/>
<rect x="96" y="644" width="1" height="26"/>
<rect x="104" y="644" width="1" height="25"/>
<rect x="112" y="644" width="1" height="25"/>
<rect x="120" y="644" width="1" height="20"/>
<rect x="128" y="644" width="1" height="14"/>
<rect x="136" y="644" width="1" height="8"/>
<rect x="144" y="644" width="1" height="1"/>
<rect x="152" y="642" width="1" height="3"/>
<rect x="160" y="635" width="1" height="10"/>
<rect x="168" y="630" width="1" height="15"/>
<rect x="176" y="627" width="1" height="18"/>
<rect x="184" y="626" width="1" height="19"/>
<rect x="192" y="625" width="1" height="20"/>
<rect x="200" y="625" width="1" height="20"/>
<rect x="208" y="625" width="1" height="20"/>
<rect x="216" y="627" width="1" height="18"/>
<rect x="224" y="628" width="1" height="17"/>
<rect x="232" y="630" width="1" height="15"/>
<rect x="240" y="634" width="1" height="11"/>
<rect x="248" y="639" width="1" height="6"/>
<rect x="256" y="643" width="1" height="2"/>
<rect x="264" y="644" width="1" height="1"/>
<rect x="272" y="644" width="1" height="10"/>
<rect x="280" y="644" width="1" height="20"/>
<rect x="288" y="644" width="1" height="26"/>
<rect x="296" y="644" width="1" height="27"/>
<rect x="304" y="644" width="1" height="28"/>
<rect x="312" y="644" width="1" height="36"/>
<rect x="320" y="644" width="1" height="44"/>
<rect x="328" y="644" width="1" height="48"/>
<rect x="336" y="644" width="1" height="50"/>
<rect x="344" y="644" width="1" height="50"/>
<rect x="352" y="644" width="1" height="50"/>
<rect x="360" y="644" width="1" height="46"/>
<rect x="368" y="644" width="1" height="43"/>
<rect x="376" y="644" width="1" height="41"/>
<rect x="384" y="644" width="1" height="41"/>
<rect x="392" y="644" width="1" height="41"/>
<rect x="400" y="644" width="1" height="43"/>
<rect x="408" y="644" width="1" height="45"/>
<rect x="416" y="644" width="1" height="47"/>
<rect x="424" y="644" width="1" height="48"/>
<rect x="432" y="644" width="1" height="48"/>
<rect x="440" y="644" width="1" height="49"/>
<rect x="448" y="644" width="1" height="50"/>
<rect x="456" y="644" width="1" height="50"/>
<rect x="464" y="644" width="1" height="51"/>
<rect x="472" y="644" width="1" height="52"/>
<rect x="480" y="644" width="1" height="52"/>
<rect x="488" y="644" width="1" height="52"/>
<rect x="496" y="644" width="1" height="51"/>
<rect x="504" y="644" width="1" height="52"/>
<rect x="512" y="644" width="1" height="52"/>
<rect x="520" y="644" width="1" height="50"/>
<rect x="528" y="644" width="1" height="46"/>
<rect x="536" y="644" width="1" height="45"/>
<rect x="544" y="644" width="1" height="43"/>
<rect x="552" y="644" width="1" height="39"/>
<rect x="560" y="644" width="1" height="33"/>
<rect x="568" y="644" width="1" height="31"/>
<rect x="576" y="644" width="1" height="31"/>
<rect x="584" y="644" width="1" height="31"/>
<rect x="592" y="644" width="1" height="28"/>
<rect x="600" y="644" width="1" height="21"/>
<rect x="608" y="644" width="1" height="12"/>
<rect x="616" y="644" width="1" height="6"/>
<rect x="624" y="644" width="1" height="1"/>
<rect x="632" y="639" width="1" height="6"/>
<rect x="640" y="634" width="1" height="11"/>
<rect x="648" y="628" width="1" height="17"/>
<rect x="656" y="623" width="1" height="22"/>
<rect x="664" y="617" width="1" height="28"/>
<rect x="672" y="613" width="1" height="32"/>
<rect x="680" y="612" width="1" height="33"/>
<rect x="688" y="611" width="1" height="34"/>
<rect x="696" y="608" width="1" height="37"/>
<rect x="704" y="607" width="1" height="38"/>
<rect x="712" y="604" width="1" height="41"/>
<rect x="720" y="602" width="1" height="43"/>
<rect x="728" y="602" width="1" height="43"/>
<rect x="736" y="598" width="1" height="47"/>
<rect x="744" y="594" width="1" height="51"/>
<rect x="752" y="589" width="1" height="56"/>
<rect x="760" y="589" width="1" height="56"/>
<rect x="768" y="590" width="1" height="55"/>
<rect x="776" y="592" width="1" height="53"/>
<rect x="784" y="596" width="1" height="49"/>
<rect x="792" y="601" width="1" height="44"/>
<rect x="800" y="605" width="1" height="40"/>
<rect x="808" y="611" width="1" height="34"/>
<rect x="816" y="616" width="1" height="29"/>
<rect x="824" y="623" width="1" height="22"/>
<rect x="832" y="629" width="1" height="16"/>
<rect x="840" y="635" width="1" height="10"/>
<rect x="848" y="644" width="1" height="1"/>
<rect x="856" y="644" width="1" height="7"/>
<rect x="864" y="644" width="1" height="12"/>
<rect x="872" y="644" width="1" height="13"/>
<rect x="880" y="644" width="1" height="10"/>
<rect x="888" y="644" width="1" height="5"/>
<rect x="896" y="644" width="1" height="1"/>
<rect x="904" y="644" width="1" height="1"/>
<rect x="912" y="644" width="1" height="1"/>
<rect x="920" y="643" width="1" height="2"/>
<rect x="928" y="642" width="1" height="3"/>
<rect x="936" y="642" width="1" height="3"/>
<rect x="944" y="640" width="1" height="5"/>
<rect x="952" y="640" width="1" height="5"/>
<rect x="960" y="639" width="1" height="6"/>
<rect x="968" y="640" width="1" height="5"/>
<rect x="976" y="639" width="1" height="6"/>
<rect x="984" y="638" width="1" height="7"/>
<rect x="992" y="635" width="1" height="10"/>
<rect x="1000" y="633" width="1" height="12"/>
<rect x="1008" y="632" width="1" height="13"/>
<rect x="1016" y="632" width="1" height="13"/>
<rect x="1024" y="632" width="1" height="13"/>
<rect x="1032" y="634" width="1" height="11"/>
<rect x="1040" y="644" width="1" height="1"/>
<rect x="1048" y="644" width="1" height="7"/>
<rect x="1056" y="644" width="1" height="14"/>
<rect x="1064" y="644" width="1" height="17"/>
<rect x="1072" y="644" width="1" height="24"/>
<rect x="1080" y="644" width="1" height="26"/>
<rect x="1088" y="644" width="1" height="29"/>
<rect x="1096" y="644" width="1" height="38"/>
<rect x="1104" y="644" width="1" height="45"/>
<rect x="1112" y="644" width="1" height="56"/>
<rect x="1120" y="644" width="1" height="64"/>
<rect x="1128" y="644" width="1" height="65"/>
<rect x="1136" y="644" width="1" height="70"/>
<rect x="1144" y="644" width="1" height="76"/>
<rect x="1152" y="644" width="1" height="79"/>
<rect x="1160" y="644" width="1" height="83"/>
<rect x="1168" y="644" width="1" height="82"/>
<rect x="1176" y="644" width="1" height="77"/>
<rect x="1184" y="644" width="1" height="72"/>
<rect x="1192" y="644" width="1" height="63"/>
<rect x="1200" y="644" width="1" height="58"/>
<rect x="1208" y="644" width="1" height="53"/>
<rect x="1216" y="644" width="1" height="44"/>
<rect x="1224" y="644" width="1" height="39"/>
<rect x="1232" y="644" width="1" height="35"/>
<rect x="1240" y="644" width="1" height="32"/>
<rect x="1248" y="644" width="1" height="31"/>
<rect x="1256" y="644" width="1" height="32"/>
<rect x="1264" y="644" width="1" height="34"/>
<rect x="1272" y="644" width="1" height="35"/>
<rect x="1280" y="644" width="1" height="34"/>
<rect x="1288" y="644" width="1" height="33"/>
<rect x="1296" y="644" width="1" height="32"/>
<rect x="1304" y="644" width="1" height="31"/>
<rect x="1312" y="644" width="1" height="31"/>
<rect x="1320" y="644" width="1" height="33"/>
<rect x="1328" y="644" width="1" height="33"/>
<rect x="1336" y="644" width="1" height="35"/>
<rect x="1344" y="644" width="1" height="34"/>
<rect x="1352" y="644" width="1" height="36"/>
<rect x="1360" y="644" width="1" height="36"/>
<rect x="1368" y="644" width="1" height="33"/>
<rect x="1376" y="644" width="1" height="31"/>
<rect x="1384" y="644" width="1" height="28"/>
<rect x="1392" y="644" width="1" height="27"/>
<rect x="1400" y="644" width="1" height="27"/>
<rect x="1408" y="644" width="1" height="27"/>
<rect x="1416" y="644" width="1" height="26"/>
<rect x="1424" y="644" width="1" height="24"/>
<rect x="1432" y="644" width="1" height="29"/>
<rect x="1440" y="644" width="1" height="32"/>
<rect x="1448" y="644" width="1" height="38"/>
<rect x="1456" y="644" width="1" height="50"/>
<rect x="1464" y="644" width="1" height="62"/>
<rect x="1472" y="644" width="1" height="75"/>
<rect x="1480" y="644" width="1" height="82"/>
</g>
<polyline points="0.0,655.2 13.4,661.2 26.7,668.6 40.0,674.6 56.8,680.2 73.5,682.6 90.2,683.6 103.6,679.6 120.3,674.2 133.6,669.6 150.4,661.2 163.7,654.5 177.0,645.2 190.4,638.5 203.8,631.8 217.2,628.5 227.2,626.0 243.9,626.0 253.9,629.0 267.3,632.5 280.7,639.0 294.0,647.8 307.4,656.2 320.7,665.2 334.0,675.2 347.5,682.0 360.8,686.3 374.2,689.3 391.0,690.3 407.6,689.3 434.3,688.6 451.0,691.0 467.8,692.6 484.5,694.3 501.0,694.3 514.5,695.3 534.6,693.6 551.3,692.0 560.0,689.6 573.4,686.0 586.7,682.0 600.0,678.6 613.5,672.0 626.8,663.5 640.0,656.2 653.6,646.8 667.0,636.8 680.3,629.5 693.6,621.8 707.0,615.0 720.4,610.0 733.7,606.7 747.0,601.7 760.5,598.4 777.2,595.0 790.5,594.4 804.0,594.4 817.3,597.7 830.6,605.0 844.0,613.4 857.4,623.4 870.7,633.5 880.7,640.8 894.0,645.2 907.5,647.8 920.8,649.2 934.2,646.8 947.6,643.5 961.0,641.2 977.6,640.2 994.3,637.8 1007.7,636.8 1021.0,635.0 1034.4,634.5 1047.8,636.0 1061.0,640.2 1074.5,646.8 1087.9,653.5 1101.3,662.5 1114.6,675.2 1120.0,679.8 1130.3,686.0 1140.6,693.5 1154.4,703.8 1168.0,714.0 1181.8,717.6 1192.0,718.6 1202.4,716.5 1216.2,712.4 1230.0,703.8 1243.7,694.2 1257.4,686.6 1271.0,681.5 1281.5,677.4 1298.6,675.6 1319.2,675.6 1339.9,675.6 1357.0,677.0 1374.2,676.3 1391.4,675.6 1408.6,674.6 1422.3,672.2 1436.0,672.2 1449.8,676.3 1460.0,681.5 1470.4,691.8 1479.7,699.7" fill="none" stroke="#ff0000" stroke-width="1" stroke-dasharray="3 3" shape-rendering="crispEdges"/>
</g>
<g font-family="Liberation Sans, sans-serif" font-size="9.6" fill="#000">
<g shape-rendering="crispEdges" stroke="none">
<rect x="1660" y="581" width="2" height="1"/>
<rect x="1660" y="644" width="2" height="1"/>
<rect x="1660" y="748" width="2" height="1"/>
</g>
<text x="1663.3" y="589.8">0.009649</text>
<text x="1663.3" y="647.6">0.00</text>
<text x="1662.8" y="745.8">-0.015903</text>
<text x="4" y="591.6" textLength="153.8" lengthAdjust="spacingAndGlyphs">MACD(12,26,9) -0.014741 -0.008745</text>
<text x="4" y="763.6" textLength="67.8" lengthAdjust="spacingAndGlyphs">RSI(14) 30.0323</text>
</g>
<g clip-path="url(#c3)">
<line x1="1" x2="1659" y1="787.5" y2="787.5" stroke="#c0c0c0" stroke-width="1" stroke-dasharray="3 3" shape-rendering="crispEdges"/>
<line x1="1" x2="1659" y1="838.5" y2="838.5" stroke="#c0c0c0" stroke-width="1" stroke-dasharray="3 3" shape-rendering="crispEdges"/>
<line x1="1" x2="1659" y1="899.5" y2="899.5" stroke="#c0c0c0" stroke-width="1" stroke-dasharray="3 3" shape-rendering="crispEdges"/>
<polyline points="0.0,853.2 8.0,846.6 16.0,865.9 24.0,875.3 32.0,868.3 40.0,855.6 48.0,852.6 56.0,848.2 64.0,844.6 72.0,848.2 80.0,844.6 88.0,844.2 96.0,845.6 104.0,848.2 112.0,851.2 120.0,835.5 128.0,835.5 136.0,823.2 144.0,822.2 152.0,826.2 160.0,818.8 168.0,815.2 176.0,821.8 184.0,828.5 192.0,827.5 200.0,827.5 208.0,827.5 216.0,834.2 224.0,823.5 232.0,843.2 240.0,844.9 248.0,849.2 256.0,855.3 264.0,840.5 272.0,863.3 280.0,865.3 288.0,863.3 296.0,851.6 304.0,852.6 312.0,866.9 320.0,870.3 328.0,862.6 336.0,862.6 344.0,863.6 352.0,860.3 360.0,848.9 368.0,847.2 376.0,854.2 384.0,856.6 392.0,860.3 400.0,863.6 408.0,868.3 416.0,870.3 424.0,865.3 432.0,863.6 440.0,866.6 448.0,869.6 456.0,871.3 464.0,865.6 472.0,874.3 480.0,872.6 488.0,865.6 496.0,867.3 504.0,872.0 512.0,868.3 520.0,859.3 528.0,859.3 536.0,865.9 544.0,861.6 552.0,852.2 560.0,838.2 568.0,851.2 576.0,854.9 584.0,858.6 592.0,845.6 600.0,830.2 608.0,823.5 616.0,824.5 624.0,823.5 632.0,817.5 640.0,819.5 648.0,811.5 656.0,810.1 664.0,806.5 672.0,809.5 680.0,819.2 688.0,812.5 696.0,809.5 704.0,815.2 712.0,806.5 720.0,808.5 728.0,811.5 736.0,804.8 744.0,796.4 752.0,796.4 760.0,806.1 768.0,807.8 776.0,814.2 784.0,826.2 792.0,824.5 800.0,827.5 808.0,837.2 816.0,837.5 824.0,850.2 832.0,846.2 840.0,853.6 848.0,865.3 856.0,865.3 864.0,861.3 872.0,851.6 880.0,835.5 888.0,828.5 896.0,823.5 904.0,836.5 912.0,836.5 920.0,835.2 928.0,833.5 936.0,836.5 944.0,833.5 952.0,833.5 960.0,828.5 968.0,838.2 976.0,836.2 984.0,827.5 992.0,820.2 1000.0,824.2 1008.0,827.5 1016.0,826.5 1024.0,828.5 1032.0,841.6 1040.0,871.3 1048.0,861.6 1056.0,866.3 1064.0,855.6 1072.0,866.3 1080.0,854.6 1088.0,859.6 1096.0,872.3 1104.0,873.6 1112.0,880.6 1120.0,881.3 1128.0,865.8 1136.0,872.4 1144.0,876.5 1152.0,874.4 1160.0,877.5 1168.0,871.7 1176.0,855.9 1184.0,852.4 1192.0,848.3 1200.0,851.1 1208.0,850.0 1216.0,836.6 1224.0,844.2 1232.0,845.6 1240.0,846.2 1248.0,848.3 1256.0,856.9 1264.0,858.6 1272.0,850.4 1280.0,848.7 1288.0,854.5 1296.0,854.5 1304.0,852.4 1312.0,857.9 1320.0,859.3 1328.0,859.6 1336.0,864.1 1344.0,865.5 1352.0,866.5 1360.0,869.3 1368.0,840.1 1376.0,849.3 1384.0,849.3 1392.0,851.1 1400.0,858.6 1408.0,857.2 1416.0,844.9 1424.0,852.1 1432.0,875.8 1440.0,875.8 1448.0,880.3 1456.0,888.8 1464.0,895.0 1472.0,896.4 1480.0,874.1" fill="none" stroke="#1e90ff" stroke-width="1.15"/>
</g>
<g font-family="Liberation Sans, sans-serif" font-size="9.6" fill="#000">
<g shape-rendering="crispEdges" stroke="none">
<rect x="1660" y="753" width="2" height="1"/>
<rect x="1660" y="787" width="2" height="1"/>
<rect x="1660" y="838" width="2" height="1"/>
<rect x="1660" y="899" width="2" height="1"/>
<rect x="1660" y="924" width="2" height="1"/>
</g>
<text x="1663.3" y="761.9">100</text>
<text x="1662.3" y="790.8">80</text>
<text x="1662.3" y="841.8">50</text>
<text x="1662.3" y="903">15</text>
<text x="1662.8" y="921.7">0</text>
</g>
<g shape-rendering="crispEdges" fill="#000">
<rect x="0" y="926" width="1" height="3"/>
<rect x="64" y="926" width="1" height="3"/>
<rect x="128" y="926" width="1" height="3"/>
<rect x="192" y="926" width="1" height="3"/>
<rect x="256" y="926" width="1" height="3"/>
<rect x="320" y="926" width="1" height="3"/>
<rect x="384" y="926" width="1" height="3"/>
<rect x="448" y="926" width="1" height="3"/>
<rect x="512" y="926" width="1" height="3"/>
<rect x="576" y="926" width="1" height="3"/>
<rect x="640" y="926" width="1" height="3"/>
<rect x="704" y="926" width="1" height="3"/>
<rect x="768" y="926" width="1" height="3"/>
<rect x="832" y="926" width="1" height="3"/>
<rect x="896" y="926" width="1" height="3"/>
<rect x="960" y="926" width="1" height="3"/>
<rect x="1024" y="926" width="1" height="3"/>
<rect x="1088" y="926" width="1" height="3"/>
<rect x="1152" y="926" width="1" height="3"/>
<rect x="1216" y="926" width="1" height="3"/>
<rect x="1280" y="926" width="1" height="3"/>
<rect x="1344" y="926" width="1" height="3"/>
<rect x="1408" y="926" width="1" height="3"/>
<rect x="1472" y="926" width="1" height="3"/>
</g>
<g font-family="Liberation Sans, sans-serif" font-size="9.6" fill="#000">
<text x="-0.7" y="937.8" textLength="51.5" lengthAdjust="spacingAndGlyphs">26 Sep 2021</text>
<text x="63.3" y="937.8" textLength="44.4" lengthAdjust="spacingAndGlyphs">5 Oct 2021</text>
<text x="127.3" y="937.8" textLength="49.5" lengthAdjust="spacingAndGlyphs">14 Oct 2021</text>
<text x="191.3" y="937.8" textLength="49.5" lengthAdjust="spacingAndGlyphs">24 Oct 2021</text>
<text x="255.3" y="937.8" textLength="46.4" lengthAdjust="spacingAndGlyphs">2 Nov 2021</text>
<text x="319.3" y="937.8" textLength="50.8" lengthAdjust="spacingAndGlyphs">11 Nov 2021</text>
<text x="383.3" y="937.8" textLength="51.5" lengthAdjust="spacingAndGlyphs">21 Nov 2021</text>
<text x="447.3" y="937.8" textLength="51.5" lengthAdjust="spacingAndGlyphs">30 Nov 2021</text>
<text x="511.3" y="937.8" textLength="46.4" lengthAdjust="spacingAndGlyphs">9 Dec 2021</text>
<text x="575.3" y="937.8" textLength="51.5" lengthAdjust="spacingAndGlyphs">19 Dec 2021</text>
<text x="639.3" y="937.8" textLength="51.5" lengthAdjust="spacingAndGlyphs">28 Dec 2021</text>
<text x="703.3" y="937.8" textLength="44.9" lengthAdjust="spacingAndGlyphs">6 Jan 2022</text>
<text x="767.3" y="937.8" textLength="50.0" lengthAdjust="spacingAndGlyphs">16 Jan 2022</text>
<text x="831.3" y="937.8" textLength="50.0" lengthAdjust="spacingAndGlyphs">25 Jan 2022</text>
<text x="895.3" y="937.8" textLength="45.9" lengthAdjust="spacingAndGlyphs">3 Feb 2022</text>
<text x="959.3" y="937.8" textLength="51.0" lengthAdjust="spacingAndGlyphs">13 Feb 2022</text>
<text x="1023.3" y="937.8" textLength="51.0" lengthAdjust="spacingAndGlyphs">22 Feb 2022</text>
<text x="1087.3" y="937.8" textLength="45.9" lengthAdjust="spacingAndGlyphs">3 Mar 2022</text>
<text x="1151.3" y="937.8" textLength="51.0" lengthAdjust="spacingAndGlyphs">13 Mar 2022</text>
<text x="1215.3" y="937.8" textLength="51.0" lengthAdjust="spacingAndGlyphs">22 Mar 2022</text>
<text x="1279.3" y="937.8" textLength="51.0" lengthAdjust="spacingAndGlyphs">31 Mar 2022</text>
<text x="1343.3" y="937.8" textLength="49.0" lengthAdjust="spacingAndGlyphs">10 Apr 2022</text>
<text x="1407.3" y="937.8" textLength="49.0" lengthAdjust="spacingAndGlyphs">19 Apr 2022</text>
<text x="1471.3" y="937.8" textLength="49.0" lengthAdjust="spacingAndGlyphs">28 Apr 2022</text>
</g>
<polygon points="1402.6,312.4 1403.5,312 1499.3,550.6 1504.8,548.5 1502.6,573 1485.2,555.8 1490.6,553.8" fill="#f7373a"/>
<polygon points="1427.6,663.4 1428.4,662.8 1477.9,726.8 1482.9,722.1 1486.8,746.8 1465.4,735.1 1470.6,732.3" fill="#f7373a"/>
<polygon points="1384.9,850 1385.5,848.8 1459.7,886.7 1463.1,882.5 1476.7,901.5 1452.1,900.7 1455.1,895.2" fill="#f7373a"/>
<polygon points="1477.4,902.2 1478.7,902.6 1492.4,887.1 1494.5,888.4 1495.8,878.2 1486.4,883.3 1489,885" fill="#f7373a"/>
</svg>
<svg width="1706" height="944" viewBox="0 0 1706 944" style="position:absolute;left:0;top:0">
<defs><linearGradient id="bl" x1="0" y1="0" x2="0" y2="1"><stop offset="0" stop-color="#5858fc"/><stop offset="0.45" stop-color="#2c2cd8"/><stop offset="1" stop-color="#0000a8"/></linearGradient>
<linearGradient id="btn" x1="0" y1="0" x2="0" y2="1"><stop offset="0" stop-color="#f0f0f0"/><stop offset="0.5" stop-color="#dcdcdc"/><stop offset="1" stop-color="#c8c8c8"/></linearGradient></defs>
<path d="M3 36.5 L6.2 31.5 L9.5 36.5 Z" fill="#000"/>
<text x="15.3" y="35.9" font-family="Liberation Sans, sans-serif" font-size="9.2" fill="#000" textLength="213.2" lengthAdjust="spacingAndGlyphs" xml:space="preserve">GBPUSD-,Daily  1.24646 1.26136 1.24646 1.25977</text>
<rect x="2" y="43" width="222" height="59" fill="#fff"/>
<g shape-rendering="crispEdges"><path d="M3 44 H55 V68 H112 V101 H3 Z" fill="#0000b8"/><path d="M4 45 H54 V69 H111 V100 H4 Z" fill="url(#bl)"/>
<path d="M222 44 H170 V68 H114 V101 H222 Z" fill="#0000b8"/><path d="M221 45 H171 V69 H115 V100 H221 Z" fill="url(#bl)"/></g>
<g shape-rendering="crispEdges"><rect x="7" y="67" width="44" height="1" fill="#0000a0"/><rect x="7" y="68" width="44" height="1" fill="#7070ff"/>
<rect x="174" y="67" width="44" height="1" fill="#0000a0"/><rect x="174" y="68" width="44" height="1" fill="#7070ff"/></g>
<text x="15.2" y="60" font-family="Liberation Sans, sans-serif" font-size="12" fill="#fff" textLength="26" lengthAdjust="spacingAndGlyphs">SELL</text>
<text x="183.3" y="60" font-family="Liberation Sans, sans-serif" font-size="12" fill="#fff" textLength="24.5" lengthAdjust="spacingAndGlyphs">BUY</text>
<rect x="57.5" y="44.5" width="110" height="21" fill="#fff" stroke="#a8a8a8" stroke-width="1" shape-rendering="crispEdges"/>
<rect x="59" y="46" width="19" height="18" fill="url(#btn)"/><rect x="147" y="46" width="20" height="18" fill="url(#btn)"/>
<rect x="78" y="45" width="1" height="20" fill="#a8a8a8"/><rect x="146" y="45" width="1" height="20" fill="#a8a8a8"/>
<path d="M65 53.2 h5 l-2.5 2.8 z" fill="#5868c0"/><path d="M153.8 55.8 h5 l-2.5 -2.8 z" fill="#5868c0"/>
<text x="142.5" y="59.3" font-family="Liberation Sans, sans-serif" font-size="12" fill="#000" text-anchor="end">1.00</text>
<text x="23.4" y="96" font-family="Liberation Sans, sans-serif" font-size="12" font-weight="bold" fill="#fff" textLength="23.4" lengthAdjust="spacingAndGlyphs">1.25</text>
<text x="49.9" y="96.3" font-family="Liberation Sans, sans-serif" font-size="33.5" fill="#fff" textLength="35" lengthAdjust="spacingAndGlyphs">97</text>
<text x="90.0" y="80" font-family="Liberation Sans, sans-serif" font-size="12" font-weight="bold" fill="#fff">7</text>
<text x="133.4" y="96" font-family="Liberation Sans, sans-serif" font-size="12" font-weight="bold" fill="#fff" textLength="23.4" lengthAdjust="spacingAndGlyphs">1.25</text>
<text x="161.3" y="96.3" font-family="Liberation Sans, sans-serif" font-size="33.5" fill="#fff" textLength="35" lengthAdjust="spacingAndGlyphs">99</text>
<text x="200.98" y="80" font-family="Liberation Sans, sans-serif" font-size="12" font-weight="bold" fill="#fff">6</text>
<g shape-rendering="crispEdges" fill="none" stroke="#404040" stroke-width="1"><rect x="1562.5" y="379.5" width="44" height="24"/><rect x="1559.5" y="443.5" width="66" height="24"/></g>
<g fill="none" stroke="#00ff00" stroke-width="1.2" stroke-linecap="square"><polyline points="1566.1,383.2 1580.5,383.2"/><polyline points="1566.1,383.2 1566.1,391.6 1564.5,398.9"/><polyline points="1569.3,389.4 1578.9,389.4"/><polyline points="1574.1,385.4 1574.1,397.8"/><polyline points="1567.7,397.8 1580.5,397.8"/><polyline points="1576.8,392.8 1578.3,395.0"/></g>
<g fill="none" stroke="#00ff00" stroke-width="1.2" stroke-linecap="square"><polyline points="1588.4,382.1 1586.7,385.4"/><polyline points="1586.7,385.4 1595.9,385.4"/><polyline points="1586.1,389.4 1596.5,389.4"/><polyline points="1591.3,382.1 1591.3,398.9"/><polyline points="1587.2,397.2 1587.2,392.2 1595.3,392.2 1595.3,396.7 1594.2,396.1"/><polyline points="1598.8,384.3 1598.8,393.9"/><polyline points="1602.3,382.1 1602.3,398.4 1600.5,397.2"/></g>
<g fill="none" stroke="#00ff00" stroke-width="1.2" stroke-linecap="square"><polyline points="1561.1,448.9 1568.6,448.9"/><polyline points="1565.1,446.1 1562.2,455.1 1568.6,455.1"/><polyline points="1565.7,451.1 1565.7,462.9"/><polyline points="1561.1,459.6 1569.2,457.9"/><polyline points="1570.9,448.9 1577.8,448.9"/><polyline points="1569.8,452.8 1578.4,452.8"/><polyline points="1575.0,446.1 1572.1,456.2 1577.8,456.2 1575.0,459.6"/><polyline points="1573.2,459.0 1576.1,462.4"/></g>
<g fill="none" stroke="#00ff00" stroke-width="1.2" stroke-linecap="square"><polyline points="1582.6,450.0 1589.9,450.0"/><polyline points="1586.3,446.1 1586.3,462.4 1584.4,461.2"/><polyline points="1582.6,457.3 1589.9,454.5"/><polyline points="1599.7,446.6 1593.0,448.9"/><polyline points="1593.0,448.9 1593.0,455.6 1591.1,462.9"/><polyline points="1593.0,453.9 1600.9,453.9"/><polyline points="1597.2,453.9 1597.2,462.9"/></g>
<g fill="none" stroke="#00ff00" stroke-width="1.2" stroke-linecap="square"><polyline points="1613.7,446.1 1613.7,451.7"/><polyline points="1613.7,448.9 1620.0,448.9"/><polyline points="1609.0,451.7 1619.5,451.7 1619.5,457.3 1609.0,457.3 1609.0,451.7"/><polyline points="1607.9,459.6 1606.2,462.9"/><polyline points="1611.4,459.6 1611.9,462.4"/><polyline points="1615.4,459.6 1616.6,462.4"/><polyline points="1619.5,459.6 1621.8,462.9"/></g>
<g fill="none" stroke="#00ff00" stroke-width="1.2" stroke-linecap="square"><polyline points="1565.1,560.4 1580.4,560.4"/><polyline points="1572.8,557.1 1572.8,563.8"/><polyline points="1567.3,563.8 1577.7,563.8"/><polyline points="1577.7,563.8 1571.7,570.0 1565.1,573.9"/><polyline points="1568.9,566.1 1573.8,570.6 1581.0,573.9"/></g>
<g fill="none" stroke="#00ff00" stroke-width="1.2" stroke-linecap="square"><polyline points="1586.6,561.0 1593.5,561.0"/><polyline points="1590.0,557.1 1590.0,573.4 1588.3,572.2"/><polyline points="1586.6,568.3 1593.5,565.5"/><polyline points="1599.3,557.1 1599.3,560.4"/><polyline points="1595.8,557.6 1597.0,559.9"/><polyline points="1602.8,557.6 1601.6,559.9"/><polyline points="1594.7,562.7 1594.7,560.4 1603.9,560.4 1603.9,562.7"/><polyline points="1596.4,562.7 1602.2,562.7 1602.2,565.5 1596.4,565.5 1596.4,562.7"/><polyline points="1601.6,566.6 1596.4,567.4"/><polyline points="1595.8,568.9 1602.8,568.9"/><polyline points="1594.7,571.1 1603.9,571.1"/><polyline points="1599.3,567.2 1599.3,573.9 1598.1,573.4"/></g>
<path d="M1582.5 379 v-1.5 h2 v1.5 M1590.5 443 v-1.5 h2 v1.5" stroke="#00ff00" stroke-width="1" fill="none"/>
<g shape-rendering="crispEdges"><rect x="1558" y="395" width="72" height="1" fill="#0000ff"/><rect x="1558" y="462" width="72" height="1" fill="#ff0000"/><rect x="1560" y="567" width="50" height="1" fill="#0000c8"/></g>
<path d="M1487 25 h9 l-4.5 5 z" fill="#c0c0c0"/>
</svg>
<svg width="1706" height="24" viewBox="0 0 1706 24" style="position:absolute;left:0;top:0">
<defs><linearGradient id="tb" x1="0" y1="0" x2="0" y2="1"><stop offset="0" stop-color="#f0f0f0"/><stop offset="1" stop-color="#f0f0f0"/></linearGradient>
<radialGradient id="lens" cx="0.4" cy="0.35" r="0.7"><stop offset="0" stop-color="#f4fbff"/><stop offset="1" stop-color="#a8d4f4"/></radialGradient>
<linearGradient id="gold" x1="0" y1="0" x2="1" y2="1"><stop offset="0" stop-color="#fff0a0"/><stop offset="0.5" stop-color="#f0c030"/><stop offset="1" stop-color="#b07810"/></linearGradient>
<linearGradient id="grn" x1="0" y1="0" x2="0" y2="1"><stop offset="0" stop-color="#60ff60"/><stop offset="1" stop-color="#10b010"/></linearGradient>
<radialGradient id="redc" cx="0.4" cy="0.3" r="0.8"><stop offset="0" stop-color="#f06040"/><stop offset="1" stop-color="#d02010"/></radialGradient>
</defs>
<rect x="0" y="0" width="1706" height="20" fill="#f0f0f0"/>
<rect x="0" y="19" width="1706" height="1" fill="#f3f3f3"/>
<rect x="0" y="20" width="1706" height="1" fill="#b4b4b4"/>
<rect x="0" y="21" width="1706" height="1" fill="#6e6e6e"/>
<rect x="0" y="22" width="1706" height="2" fill="#ffffff"/>
<rect x="295" y="0" width="24" height="18" fill="#f8f8f8"/>
<rect x="447" y="0" width="24" height="18" fill="#f8f8f8"/>
<rect x="476" y="0" width="22" height="18" fill="#f8f8f8"/>
<rect x="635" y="0" width="24" height="18" fill="#f8f8f8"/>
<rect x="1109" y="0" width="24" height="18" fill="#f8f8f8"/>
<rect x="1108" y="0" width="1" height="18" fill="#b0b0b0"/>
<rect x="20" y="0" width="1" height="18" fill="#a8a8a8"/>
<rect x="256" y="0" width="1" height="18" fill="#a8a8a8"/>
<rect x="294" y="0" width="1" height="18" fill="#a8a8a8"/>
<rect x="351" y="0" width="1" height="18" fill="#a8a8a8"/>
<rect x="441" y="0" width="1" height="18" fill="#a8a8a8"/>
<rect x="446" y="0" width="1" height="18" fill="#a8a8a8"/>
<rect x="474" y="0" width="1" height="18" fill="#a8a8a8"/>
<rect x="503" y="0" width="1" height="18" fill="#a8a8a8"/>
<rect x="624" y="0" width="1" height="18" fill="#a8a8a8"/>
<rect x="691" y="0" width="1" height="18" fill="#a8a8a8"/>
<rect x="930" y="0" width="1" height="18" fill="#a8a8a8"/>
<rect x="1191" y="0" width="1" height="18" fill="#a8a8a8"/>
<rect x="260" y="1" width="3" height="1" fill="#b4b4b4"/>
<rect x="260" y="3" width="3" height="1" fill="#b4b4b4"/>
<rect x="260" y="5" width="3" height="1" fill="#b4b4b4"/>
<rect x="260" y="7" width="3" height="1" fill="#b4b4b4"/>
<rect x="260" y="9" width="3" height="1" fill="#b4b4b4"/>
<rect x="260" y="11" width="3" height="1" fill="#b4b4b4"/>
<rect x="260" y="13" width="3" height="1" fill="#b4b4b4"/>
<rect x="260" y="15" width="3" height="1" fill="#b4b4b4"/>
<rect x="260" y="17" width="3" height="1" fill="#b4b4b4"/>
<rect x="628" y="1" width="3" height="1" fill="#b4b4b4"/>
<rect x="628" y="3" width="3" height="1" fill="#b4b4b4"/>
<rect x="628" y="5" width="3" height="1" fill="#b4b4b4"/>
<rect x="628" y="7" width="3" height="1" fill="#b4b4b4"/>
<rect x="628" y="9" width="3" height="1" fill="#b4b4b4"/>
<rect x="628" y="11" width="3" height="1" fill="#b4b4b4"/>
<rect x="628" y="13" width="3" height="1" fill="#b4b4b4"/>
<rect x="628" y="15" width="3" height="1" fill="#b4b4b4"/>
<rect x="628" y="17" width="3" height="1" fill="#b4b4b4"/>
<rect x="934" y="1" width="3" height="1" fill="#b4b4b4"/>
<rect x="934" y="3" width="3" height="1" fill="#b4b4b4"/>
<rect x="934" y="5" width="3" height="1" fill="#b4b4b4"/>
<rect x="934" y="7" width="3" height="1" fill="#b4b4b4"/>
<rect x="934" y="9" width="3" height="1" fill="#b4b4b4"/>
<rect x="934" y="11" width="3" height="1" fill="#b4b4b4"/>
<rect x="934" y="13" width="3" height="1" fill="#b4b4b4"/>
<rect x="934" y="15" width="3" height="1" fill="#b4b4b4"/>
<rect x="934" y="17" width="3" height="1" fill="#b4b4b4"/>
<circle cx="3" cy="8" r="5" fill="url(#lens)" stroke="#6ea0d8" stroke-width="1.2"/>
<rect x="1" y="3" width="3" height="7" fill="#c8c8d0" opacity="0.8"/>
<line x1="7.5" y1="12.5" x2="12" y2="17" stroke="#c89020" stroke-width="2.2"/>
<path d="M30.5 0.5 h8 l3.5 3.5 v9.5 h-11.5 z" fill="#fcfcfc" stroke="#909090" stroke-width="1"/>
<path d="M32.5 3.5h3 M32.5 6.5h6 M32.5 8.5h6" stroke="#909090" stroke-width="1"/>
<path d="M38.5 6.5 h3.5 v3.8 h3.8 v3.5 h-3.8 v3.8 h-3.5 v-3.8 h-3.8 v-3.5 h3.8 z" fill="url(#grn)" stroke="#109010" stroke-width="0.8"/>
<g fill="none" stroke="#000" stroke-width="1.15" stroke-linecap="square"><polyline points="52.0,1.2 52.0,2.6"/><polyline points="50.0,2.6 54.1,2.6"/><polyline points="51.0,3.6 51.4,5.0"/><polyline points="53.1,3.6 52.7,5.0"/><polyline points="49.6,5.3 54.5,5.3"/><polyline points="50.0,7.4 54.1,7.4"/><polyline points="52.0,5.3 52.0,11.5 51.4,11.2"/><polyline points="52.0,7.4 50.0,10.1"/><polyline points="52.4,8.1 54.1,9.8"/><polyline points="59.3,1.9 55.8,3.3"/><polyline points="55.8,3.3 55.8,7.4 55.1,11.5"/><polyline points="55.8,6.0 60.0,6.0"/><polyline points="57.9,6.0 57.9,11.9"/></g>
<g fill="none" stroke="#000" stroke-width="1.15" stroke-linecap="square"><polyline points="62.3,1.9 63.4,3.3"/><polyline points="61.6,5.0 63.4,5.0 63.4,10.5 65.1,8.8"/><polyline points="65.4,2.9 72.0,2.9"/><polyline points="68.9,2.9 68.9,11.5 67.5,10.8"/></g>
<g fill="none" stroke="#000" stroke-width="1.15" stroke-linecap="square"><polyline points="76.0,1.5 77.1,3.3"/><polyline points="81.5,1.5 80.5,3.3"/><polyline points="75.0,3.6 82.6,3.6 82.6,7.7 75.0,7.7 75.0,3.6"/><polyline points="75.0,5.7 82.6,5.7"/><polyline points="78.8,3.6 78.8,11.9"/><polyline points="73.6,9.4 84.0,9.4"/></g>
<g fill="none" stroke="#000" stroke-width="1.15" stroke-linecap="square"><polyline points="207.5,1.2 206.5,2.9"/><polyline points="204.1,2.9 210.9,2.9 210.9,11.5 204.1,11.5 204.1,2.9"/><polyline points="204.1,5.7 210.9,5.7"/><polyline points="204.1,8.4 210.9,8.4"/></g>
<g fill="none" stroke="#000" stroke-width="1.15" stroke-linecap="square"><polyline points="214.7,3.3 218.5,3.3"/><polyline points="214.0,6.0 219.2,6.0"/><polyline points="216.4,6.0 214.7,10.1 218.5,9.8"/><polyline points="217.8,8.1 218.9,10.5"/><polyline points="219.5,4.6 224.0,4.6 223.7,10.8 222.3,11.2"/><polyline points="221.6,1.9 221.6,6.0 219.5,11.5"/></g>
<g fill="none" stroke="#000" stroke-width="1.15" stroke-linecap="square"><polyline points="230.9,1.2 230.9,2.9"/><polyline points="225.7,3.3 236.1,3.3"/><polyline points="229.2,4.3 226.8,6.7"/><polyline points="232.6,4.3 235.0,6.7"/><polyline points="233.0,6.4 229.5,9.4 226.1,11.9"/><polyline points="228.8,6.4 232.3,9.4 235.7,11.9"/></g>
<g fill="none" stroke="#000" stroke-width="1.15" stroke-linecap="square"><polyline points="239.8,1.5 245.3,1.5 245.3,5.7 239.8,5.7 239.8,1.5"/><polyline points="239.8,3.6 245.3,3.6"/><polyline points="240.5,5.7 237.8,8.4"/><polyline points="239.8,7.0 246.7,7.0 246.0,11.5 244.7,11.9"/><polyline points="242.3,7.0 239.2,10.8"/><polyline points="244.3,7.0 241.2,11.9"/></g>
<path d="M97 10 L104 1.5 L113 7 L106.5 16 Z" fill="url(#gold)" stroke="#a87010" stroke-width="0.8"/>
<path d="M97 10 L97.5 11.8 L106.5 17.3 L113 8.5 L113 7" fill="none" stroke="#9a6408" stroke-width="1"/>
<rect x="127.5" y="0.5" width="11" height="9" rx="1" fill="#3f8fe8" stroke="#2060c0" stroke-width="0.8"/>
<rect x="131" y="3" width="7" height="2" fill="#d8ecff"/><rect x="131" y="6" width="7" height="2" fill="#d8ecff"/>
<path d="M127 15.5 a3 3 0 0 1 0.5 -6 a4 4 0 0 1 7 -1 a3.5 3.5 0 0 1 5.5 3.5 a2 2 0 0 1 -1 3.5 z" fill="#eef2fa" stroke="#7890c0" stroke-width="1"/>
<circle cx="160.8" cy="8" r="7" fill="none" stroke="#b8cce8" stroke-width="1"/>
<circle cx="160.8" cy="8" r="4.8" fill="none" stroke="#6e96dc" stroke-width="1.1"/>
<circle cx="160.8" cy="8" r="2.6" fill="none" stroke="#4878d0" stroke-width="1.1"/>
<path d="M160.8 8 L160.8 15.5 A7.5 7.5 0 0 0 168 8 Z" fill="#70c070" opacity="0.55"/>
<path d="M160.8 8 V15.5" stroke="#30a030" stroke-width="1.4"/>
<circle cx="160.8" cy="7.5" r="1.4" fill="#3060c8"/>
<path d="M180 6.5 L196 6.5 L189 16 L186 15 Z" fill="#f8d848" stroke="#d8a820" stroke-width="0.6"/>
<ellipse cx="187.8" cy="4.8" rx="8" ry="2.6" fill="#58a0e0" stroke="#3878c0" stroke-width="0.6"/>
<path d="M183.5 4 a4.3 4.3 0 0 1 8.6 0 z" fill="#78b8f0" stroke="#3878c0" stroke-width="0.6"/>
<circle cx="192.3" cy="11.8" r="4" fill="#e02818"/>
<rect x="190.6" y="10.1" width="3.4" height="3.4" fill="#fff"/>
<path d="M274.5 2 V15 M272 13.5 H285" stroke="#505050" stroke-width="1.2" fill="none"/>
<path d="M272.8 4 L274.5 1.5 L276.2 4 M283 11.8 L285.5 13.5 L283 15.2" stroke="#505050" stroke-width="1" fill="none"/>
<path d="M280.5 4 V11.5 M280.5 4.5 H283 M278.3 10.5 H280.5" stroke="#20a020" stroke-width="1.3" fill="none"/>
<path d="M302.5 2 V15 M300 13.5 H313" stroke="#505050" stroke-width="1.2" fill="none"/>
<path d="M300.8 4 L302.5 1.5 L304.2 4 M311 11.8 L313.5 13.5 L311 15.2" stroke="#505050" stroke-width="1" fill="none"/>
<path d="M308.5 0 V12" stroke="#108010" stroke-width="1"/><rect x="306.3" y="2.5" width="4.4" height="7.5" fill="#40e040" stroke="#108010" stroke-width="0.8"/>
<path d="M330.5 2 V15 M328 13.5 H341" stroke="#505050" stroke-width="1.2" fill="none"/>
<path d="M328.8 4 L330.5 1.5 L332.2 4 M339 11.8 L341.5 13.5 L339 15.2" stroke="#505050" stroke-width="1" fill="none"/>
<path d="M329 11 Q334 3.5 336.5 5.2 T341 9.5" stroke="#30a030" stroke-width="1.2" fill="none"/>
<line x1="370.0" y1="10.3" x2="374.8" y2="14.8" stroke="#d0a020" stroke-width="2.6"/>
<circle cx="365.8" cy="6.1" r="5.2" fill="url(#lens)" stroke="#3880d0" stroke-width="1.3"/>
<path d="M362.8 6.1 H368.8" stroke="#3070c8" stroke-width="1.6"/>
<path d="M365.8 3.1 V9.1" stroke="#3070c8" stroke-width="1.6"/>
<line x1="397.9" y1="10.3" x2="402.7" y2="14.8" stroke="#d0a020" stroke-width="2.6"/>
<circle cx="393.7" cy="6.1" r="5.2" fill="url(#lens)" stroke="#3880d0" stroke-width="1.3"/>
<path d="M390.7 6.1 H396.7" stroke="#3070c8" stroke-width="1.6"/>
<rect x="416" y="0" width="7.6" height="7.4" rx="0.8" fill="#50a820"/>
<rect x="417.3" y="3.2" width="5" height="2.6" fill="none" stroke="#fff" stroke-width="0.8"/>
<rect x="424.5" y="0" width="7.6" height="7.4" rx="0.8" fill="#2858d8"/>
<rect x="425.8" y="3.2" width="5" height="2.6" fill="none" stroke="#fff" stroke-width="0.8"/>
<rect x="416" y="8" width="7.6" height="7.4" rx="0.8" fill="#2858d8"/>
<rect x="417.3" y="11.2" width="5" height="2.6" fill="none" stroke="#fff" stroke-width="0.8"/>
<rect x="424.5" y="8" width="7.6" height="7.4" rx="0.8" fill="#50a820"/>
<rect x="425.8" y="11.2" width="5" height="2.6" fill="none" stroke="#fff" stroke-width="0.8"/>
<path d="M454.5 2 V15 M452 13.5 H465" stroke="#505050" stroke-width="1.2" fill="none"/>
<path d="M452.8 4 L454.5 1.5 L456.2 4 M463 11.8 L465.5 13.5 L463 15.2" stroke="#505050" stroke-width="1" fill="none"/>
<path d="M459.5 4.3 L463.5 7.7 L459.5 11 Z" fill="#80e880" stroke="#20a020" stroke-width="1"/>
<path d="M482.5 2 V15 M480 13.5 H493" stroke="#505050" stroke-width="1.2" fill="none"/>
<path d="M480.8 4 L482.5 1.5 L484.2 4 M491 11.8 L493.5 13.5 L491 15.2" stroke="#505050" stroke-width="1" fill="none"/>
<path d="M488.5 2 V12" stroke="#2060c0" stroke-width="1.2"/><path d="M494.5 7.5 H490 M492 5.5 L490 7.5 L492 9.5" stroke="#d03010" stroke-width="1.1" fill="none"/>
<path d="M513.5 1.5 h6 l3 3 v8.5 h-9 z" fill="#fcfcfc" stroke="#909090" stroke-width="1"/>
<path d="M516 4 v6 M516 5.5 h2 M516 8.5 h-1.5" stroke="#808080" stroke-width="0.8" fill="none"/>
<path d="M521.5 6 h3.5 v3.8 h3.8 v3.5 h-3.8 v3.8 h-3.5 v-3.8 h-3.8 v-3.5 h3.8 z" fill="url(#grn)" stroke="#109010" stroke-width="0.8"/>
<path d="M535.3 7.2 h5 l-2.5 2.8 z" fill="#000"/>
<path d="M574 7.2 h5 l-2.5 2.8 z" fill="#000"/>
<path d="M613 7.2 h5 l-2.5 2.8 z" fill="#000"/>
<circle cx="559" cy="8" r="6.8" fill="#e4ecf8" stroke="#2468d0" stroke-width="2.4"/>
<path d="M559 4 V8.2 H562" stroke="#404040" stroke-width="1" fill="none"/>
<rect x="590.5" y="1.5" width="15" height="13" fill="#fff" stroke="#3068c8" stroke-width="1.2"/>
<rect x="591" y="2" width="14" height="2" fill="#5088e0"/>
<path d="M592.5 7.5 L595.5 6.5 L598 7.2 L600.5 5.8 L603.5 6" stroke="#c03020" stroke-width="1" fill="none"/>
<path d="M591 9 H605" stroke="#3068c8" stroke-width="0.8"/>
<path d="M592.5 12.5 L595.5 11.2 L598 12.2 L600.5 10.6 L603.5 12" stroke="#20a030" stroke-width="1" fill="none"/>
<path d="M642 1 L642 12.5 L644.8 10 L647 15 L649 14 L646.8 9.3 L650.3 9.3 Z" fill="#404040"/>
<path d="M674.5 1 V7 M674.5 10 V16 M667 8.5 H673 M676 8.5 H682" stroke="#505050" stroke-width="1"/>
<path d="M708.5 2 V15" stroke="#505050" stroke-width="1"/>
<path d="M731 8.5 H743" stroke="#505050" stroke-width="1"/>
<path d="M759 15 L771 2.6" stroke="#505050" stroke-width="1.1"/>
<path d="M785 13 L797 3 M787 15.5 L799 5.5 M789 9.5 L788 14 M792 7 L791 12.5 M795 4.5 L794 10 M797.5 2 L797 7" stroke="#505050" stroke-width="0.9" fill="none"/>
<text x="796" y="17" font-family="Liberation Sans, sans-serif" font-size="6.5" font-weight="bold" fill="#404040">E</text>
<line x1="814" x2="827" y1="1.5" y2="1.5" stroke="#505050" stroke-width="1" stroke-dasharray="1 1"/>
<line x1="814" x2="827" y1="4.5" y2="4.5" stroke="#505050" stroke-width="1" stroke-dasharray="1 1"/>
<line x1="814" x2="827" y1="8.5" y2="8.5" stroke="#505050" stroke-width="1" stroke-dasharray="1 1"/>
<line x1="814" x2="827" y1="12.5" y2="12.5" stroke="#505050" stroke-width="1" stroke-dasharray="1 1"/>
<text x="823.5" y="17" font-family="Liberation Sans, sans-serif" font-size="6.5" font-weight="bold" fill="#404040">F</text>
<text x="844.3" y="13" font-family="Liberation Sans, sans-serif" font-size="12" fill="#606060" stroke="#606060" stroke-width="0.4">A</text>
<rect x="871" y="2.5" width="12" height="12" fill="none" stroke="#606060" stroke-width="1" stroke-dasharray="1 1"/>
<text x="873" y="13" font-family="Liberation Sans, sans-serif" font-size="11.5" fill="#606060" stroke="#606060" stroke-width="0.4">T</text>
<path d="M898.5 5 L901 2 L903.5 5 L901 8 Z M907 12.5 L909.5 9.5 L912 12.5 L909.5 15.5 Z" fill="#404040"/>
<path d="M900.5 9.5 L902.5 11.5 L906.5 6.5" stroke="#404040" stroke-width="1.3" fill="none"/>
<path d="M919 7.2 h5 l-2.5 2.8 z" fill="#000"/>
<g font-family="Liberation Sans, sans-serif" font-size="9.4" fill="#404040">
<text x="945.0" y="12" textLength="13.299999999999955" lengthAdjust="spacingAndGlyphs">M1</text>
<text x="973.1" y="12" textLength="13.399999999999977" lengthAdjust="spacingAndGlyphs">M5</text>
<text x="999.0" y="12" textLength="18.200000000000045" lengthAdjust="spacingAndGlyphs">M15</text>
<text x="1027.1" y="12" textLength="18.300000000000182" lengthAdjust="spacingAndGlyphs">M30</text>
<text x="1058.5" y="12" textLength="11.799999999999955" lengthAdjust="spacingAndGlyphs">H1</text>
<text x="1085.1" y="12" textLength="13.0" lengthAdjust="spacingAndGlyphs">H4</text>
<text x="1114.3" y="12" textLength="12.0" lengthAdjust="spacingAndGlyphs">D1</text>
<text x="1141.5" y="12" textLength="14.5" lengthAdjust="spacingAndGlyphs">W1</text>
<text x="1168.3" y="12" textLength="15.100000000000136" lengthAdjust="spacingAndGlyphs">MN</text>
</g>
<circle cx="1661.5" cy="5" r="3.7" fill="#f4f8ff" stroke="#2858d0" stroke-width="1.3"/>
<line x1="1658.6" y1="8" x2="1654" y2="12.8" stroke="#2858d0" stroke-width="2"/>
<path d="M1679 8 a5 4 0 0 1 10 -1 a5 4 0 0 1 -5 6.5 l-3.5 3 l0.8 -3.3 a4 4 0 0 1 -2.3 -5.2 z" fill="#e0e0ec" stroke="#b8b8c8" stroke-width="0.8"/>
<circle cx="1692.4" cy="5.4" r="8.3" fill="url(#redc)"/>
<text x="1688.6" y="10" font-family="Liberation Sans, sans-serif" font-size="12.5" fill="#fff">1</text>
</svg>
<div style="position:absolute;left:1705px;top:22px;width:1px;height:922px;background:#e0e0e0"></div>
</body></html>
